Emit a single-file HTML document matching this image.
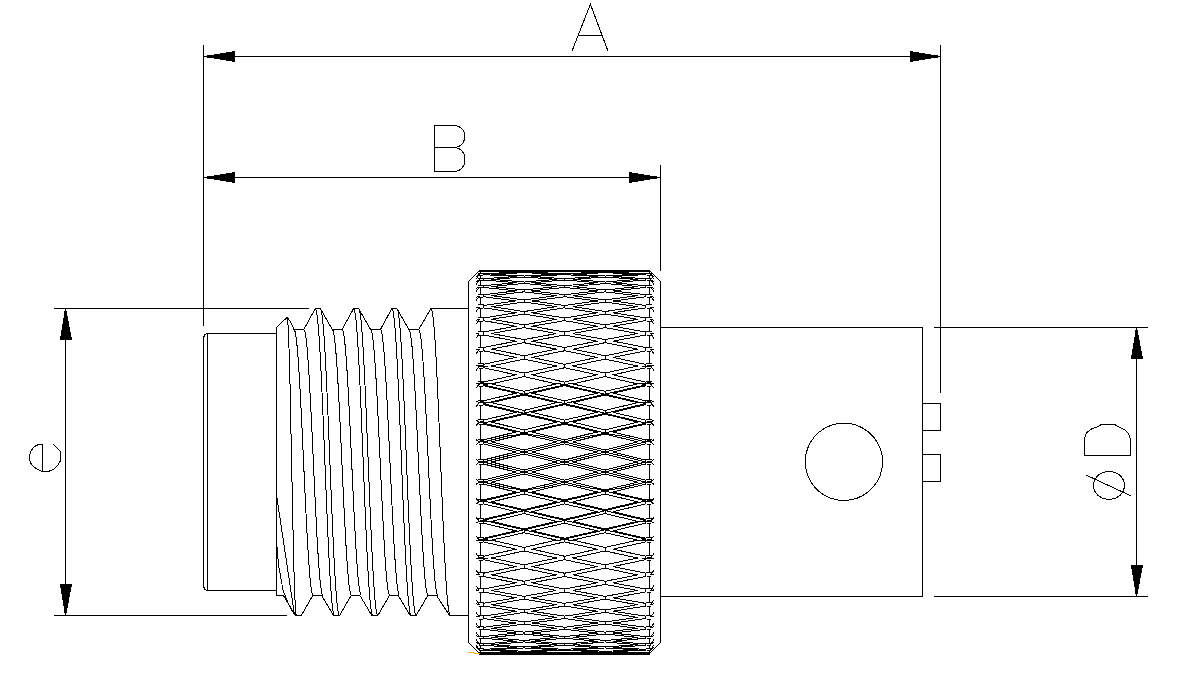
<!DOCTYPE html>
<html><head><meta charset="utf-8"><title>Connector drawing</title>
<style>
html,body{margin:0;padding:0;background:#fff;font-family:"Liberation Sans",sans-serif}
svg{display:block}
</style></head><body>
<svg width="1197" height="681" viewBox="0 0 1197 681" shape-rendering="crispEdges" fill="none" stroke="#000" stroke-width="1" stroke-linejoin="miter">
<rect x="0" y="0" width="1197" height="681" fill="#fff" stroke="none"/>
<path d="M203.5 56.5L940.5 56.5"/>
<path d="M203.5 45L203.5 326"/>
<path d="M940.5 45L940.5 393"/>
<path d="M203.5 177.5L660.5 177.5"/>
<path d="M660.5 165L660.5 271"/>
<path d="M205 55.9L205 57.1L235 62L235 51Z" fill="#000" stroke="none"/>
<path d="M940 55.9L940 57.1L910 62L910 51Z" fill="#000" stroke="none"/>
<path d="M205 176.9L205 178.1L235 183L235 172Z" fill="#000" stroke="none"/>
<path d="M659 176.9L659 178.1L629 183L629 172Z" fill="#000" stroke="none"/>
<path d="M54 308.5L309 308.5"/>
<path d="M54 615.5L287 615.5"/>
<path d="M65.5 308L65.5 616"/>
<path d="M64.9 309L66.1 309L72.1 340L59.9 340Z" fill="#000" stroke="none"/>
<path d="M64.9 615L66.1 615L72.1 584L59.9 584Z" fill="#000" stroke="none"/>
<path d="M934 327.5L1148 327.5"/>
<path d="M934 596.5L1148 596.5"/>
<path d="M1136.5 327L1136.5 597"/>
<path d="M1135.9 328L1137.1 328L1143.1 359L1130.9 359Z" fill="#000" stroke="none"/>
<path d="M1135.9 596L1137.1 596L1143.1 565L1130.9 565Z" fill="#000" stroke="none"/>
<path d="M572.2 50.6L590.4 4.2L607.8 50.6"/>
<path d="M578.2 35.5L601.8 35.5"/>
<path d="M454.5 125.5L434.5 125.5L434.5 171.5L454.5 171.5"/>
<path d="M434.5 147.5L454.5 147.5"/>
<path d="M454.5 125.5L456.8 125.8L459.0 126.6L460.9 127.9L462.6 129.6L463.8 131.7L464.5 134.1L464.8 136.5L464.5 138.9L463.8 141.3L462.6 143.4L460.9 145.1L459.0 146.4L456.8 147.2L454.5 147.5"/>
<path d="M454.5 147.5L456.8 147.8L459.1 148.7L461.0 150.1L462.7 152.0L464.0 154.3L464.7 156.8L465.0 159.5L464.7 162.2L464.0 164.7L462.7 167.0L461.0 168.9L459.1 170.3L456.8 171.2L454.5 171.5"/>
<path d="M42.5 471.3L42.5 444.5L38.5 444.5L34.5 446.5L31.2 450.5L29.5 455.0L29.5 460.2L31.5 464.5L35.1 467.8L38.7 470.0L42.2 471.3L48.5 471.3L52.0 470.2L54.6 468.4L57.8 465.0L60.3 461.0L60.6 455.5L60.4 451.6L53.2 444.4"/>
<path d="M1084.5 439.3L1084.5 455.5L1130.5 455.5L1130.5 439.3L1128.6 433.8L1124.8 429.7L1119.4 427.2L1114.6 424.5L1101.4 424.5L1096.8 427.2L1092.2 428.4L1087.2 432.2L1085.5 435.1L1084.5 439.3"/>
<path d="M1124.7 485.4L1123.5 490.8L1120.1 495.4L1115.0 498.5L1109.0 499.6L1103.0 498.5L1097.9 495.4L1094.5 490.8L1093.3 485.4L1094.5 480.0L1097.9 475.4L1103.0 472.3L1109.0 471.2L1115.0 472.3L1120.1 475.4L1123.5 480.0L1124.7 485.4Z"/>
<path d="M1086.2 475.1L1130.8 495.8"/>
<path d="M660.5 327.5L922.5 327.5L922.5 596.5L660.5 596.5"/>
<path d="M882.6 461.8L882.0 468.5L880.3 475.0L877.4 481.2L873.5 486.7L868.8 491.4L863.2 495.3L857.1 498.2L850.6 499.9L843.9 500.5L837.2 499.9L830.7 498.2L824.5 495.3L819.0 491.4L814.3 486.7L810.4 481.2L807.5 475.0L805.8 468.5L805.2 461.8L805.8 455.1L807.5 448.6L810.4 442.4L814.3 436.9L819.0 432.2L824.5 428.3L830.7 425.4L837.2 423.7L843.9 423.1L850.6 423.7L857.1 425.4L863.2 428.3L868.8 432.2L873.5 436.9L877.4 442.5L880.3 448.6L882.0 455.1L882.6 461.8Z"/>
<path d="M922.5 403.5L940.5 403.5L940.5 430.5L922.5 430.5"/>
<path d="M922.5 454.5L940.5 454.5L940.5 481.5L922.5 481.5"/>
<path d="M276.5 333.5L207.5 333.5L205.0 334.5L203.5 337.5L203.5 586.5L205.0 589.5L207.5 590.5L276.5 590.5"/>
<path d="M207.5 333.5L207.5 590.5"/>
<path d="M276.5 327L276.5 595.5"/>
<path d="M276.5 327.5L287.1 317.3"/>
<path d="M287.1 317.3L289.5 320.5L291.8 324.5L294.0 329.5L294.0 329.5L303.8 329.5L315.3 308.5L320.3 308.5L332.3 329.5L342.1 329.5L353.6 308.5L358.6 308.5L370.6 329.5L380.4 329.5L391.9 308.5L396.9 308.5L408.9 329.5L418.7 329.5L431.0 308.5L468.5 308.5"/>
<path d="M276.5 595.5L283.4 595.5L295.3 615.5L301.3 615.5L312.8 595.5L321.6 595.5L333.6 615.5L339.6 615.5L351.1 595.5L359.9 595.5L371.9 615.5L377.9 615.5L389.4 595.5L398.2 595.5L410.2 615.5L416.2 615.5L427.7 595.5L436.5 595.5L449.6 615.5L468.5 615.5"/>
<path d="M294.0 329.5L294.8 330.6L295.6 334.0L296.4 339.6L297.2 347.3L298.0 357.0L298.8 368.5L299.6 381.5L300.4 396.0L301.2 411.6L302.0 428.1L302.8 445.1L303.6 462.5L304.4 479.9L305.2 496.9L306.0 513.4L306.8 529.0L307.6 543.5L308.4 556.5L309.2 568.0L310.0 577.7L310.8 585.4L311.6 591.0L312.4 594.4L313.1 595.5"/>
<path d="M303.8 329.5L304.6 330.6L305.4 334.0L306.2 339.6L307.0 347.3L307.8 357.0L308.6 368.5L309.4 381.5L310.2 396.0L311.0 411.6L311.8 428.1L312.6 445.1L313.4 462.5L314.2 479.9L315.0 496.9L315.8 513.4L316.6 529.0L317.4 543.5L318.2 556.5L319.0 568.0L319.8 577.7L320.6 585.4L321.4 591.0L322.2 594.4L322.9 595.5"/>
<path d="M315.3 308.5L316.1 309.8L316.9 313.7L317.7 320.2L318.5 329.1L319.3 340.2L320.1 353.5L320.9 368.6L321.7 385.2L322.5 403.3L323.3 422.3L324.1 442.0L324.9 462.0L325.7 482.0L326.5 501.7L327.3 520.7L328.1 538.8L328.9 555.4L329.7 570.5L330.5 583.8L331.3 594.9L332.1 603.8L332.9 610.3L333.7 614.2L334.4 615.5"/>
<path d="M320.3 308.5L321.1 309.8L321.9 313.7L322.7 320.2L323.5 329.1L324.3 340.2L325.1 353.5L325.9 368.6L326.7 385.2L327.5 403.3L328.3 422.3L329.1 442.0L329.9 462.0L330.7 482.0L331.5 501.7L332.3 520.7L333.1 538.8L333.9 555.4L334.7 570.5L335.5 583.8L336.3 594.9L337.1 603.8L337.9 610.3L338.7 614.2L339.4 615.5"/>
<path d="M332.3 329.5L333.1 330.6L333.9 334.0L334.7 339.6L335.5 347.3L336.3 357.0L337.1 368.5L337.9 381.5L338.7 396.0L339.5 411.6L340.3 428.1L341.1 445.1L341.9 462.5L342.7 479.9L343.5 496.9L344.3 513.4L345.1 529.0L345.9 543.5L346.7 556.5L347.5 568.0L348.3 577.7L349.1 585.4L349.9 591.0L350.7 594.4L351.4 595.5"/>
<path d="M342.1 329.5L342.9 330.6L343.7 334.0L344.5 339.6L345.3 347.3L346.1 357.0L346.9 368.5L347.7 381.5L348.5 396.0L349.3 411.6L350.1 428.1L350.9 445.1L351.7 462.5L352.5 479.9L353.3 496.9L354.1 513.4L354.9 529.0L355.7 543.5L356.5 556.5L357.3 568.0L358.1 577.7L358.9 585.4L359.7 591.0L360.5 594.4L361.2 595.5"/>
<path d="M353.6 308.5L354.4 309.8L355.2 313.7L356.0 320.2L356.8 329.1L357.6 340.2L358.4 353.5L359.2 368.6L360.0 385.2L360.8 403.3L361.6 422.3L362.4 442.0L363.2 462.0L364.0 482.0L364.8 501.7L365.6 520.7L366.4 538.8L367.2 555.4L368.0 570.5L368.8 583.8L369.6 594.9L370.4 603.8L371.2 610.3L372.0 614.2L372.8 615.5"/>
<path d="M358.6 308.5L359.4 309.8L360.2 313.7L361.0 320.2L361.8 329.1L362.6 340.2L363.4 353.5L364.2 368.6L365.0 385.2L365.8 403.3L366.6 422.3L367.4 442.0L368.2 462.0L369.0 482.0L369.8 501.7L370.6 520.7L371.4 538.8L372.2 555.4L373.0 570.5L373.8 583.8L374.6 594.9L375.4 603.8L376.2 610.3L377.0 614.2L377.8 615.5"/>
<path d="M370.6 329.5L371.4 330.6L372.2 334.0L373.0 339.6L373.8 347.3L374.6 357.0L375.4 368.5L376.2 381.5L377.0 396.0L377.8 411.6L378.6 428.1L379.4 445.1L380.2 462.5L381.0 479.9L381.8 496.9L382.6 513.4L383.4 529.0L384.2 543.5L385.0 556.5L385.8 568.0L386.6 577.7L387.4 585.4L388.2 591.0L389.0 594.4L389.8 595.5"/>
<path d="M380.4 329.5L381.2 330.6L382.0 334.0L382.8 339.6L383.6 347.3L384.4 357.0L385.2 368.5L386.0 381.5L386.8 396.0L387.6 411.6L388.4 428.1L389.2 445.1L390.0 462.5L390.8 479.9L391.6 496.9L392.4 513.4L393.2 529.0L394.0 543.5L394.8 556.5L395.6 568.0L396.4 577.7L397.2 585.4L398.0 591.0L398.8 594.4L399.5 595.5"/>
<path d="M391.9 308.5L392.7 309.8L393.5 313.7L394.3 320.2L395.1 329.1L395.9 340.2L396.7 353.5L397.5 368.6L398.3 385.2L399.1 403.3L399.9 422.3L400.7 442.0L401.5 462.0L402.3 482.0L403.1 501.7L403.9 520.7L404.7 538.8L405.5 555.4L406.3 570.5L407.1 583.8L407.9 594.9L408.7 603.8L409.5 610.3L410.3 614.2L411.0 615.5"/>
<path d="M396.9 308.5L397.7 309.8L398.5 313.7L399.3 320.2L400.1 329.1L400.9 340.2L401.7 353.5L402.5 368.6L403.3 385.2L404.1 403.3L404.9 422.3L405.7 442.0L406.5 462.0L407.3 482.0L408.1 501.7L408.9 520.7L409.7 538.8L410.5 555.4L411.3 570.5L412.1 583.8L412.9 594.9L413.7 603.8L414.5 610.3L415.3 614.2L416.0 615.5"/>
<path d="M408.9 329.5L409.7 330.6L410.5 334.0L411.3 339.6L412.1 347.3L412.9 357.0L413.7 368.5L414.5 381.5L415.3 396.0L416.1 411.6L416.9 428.1L417.7 445.1L418.5 462.5L419.3 479.9L420.1 496.9L420.9 513.4L421.7 529.0L422.5 543.5L423.3 556.5L424.1 568.0L424.9 577.7L425.7 585.4L426.5 591.0L427.3 594.4L428.0 595.5"/>
<path d="M418.7 329.5L419.5 330.6L420.3 334.0L421.1 339.6L421.9 347.3L422.7 357.0L423.5 368.5L424.3 381.5L425.1 396.0L425.9 411.6L426.7 428.1L427.5 445.1L428.3 462.5L429.1 479.9L429.9 496.9L430.7 513.4L431.5 529.0L432.3 543.5L433.1 556.5L433.9 568.0L434.7 577.7L435.5 585.4L436.3 591.0L437.1 594.4L437.8 595.5"/>
<path d="M431.0 308.5L431.8 309.8L432.6 313.7L433.4 320.2L434.2 329.1L435.0 340.2L435.8 353.5L436.6 368.6L437.4 385.2L438.2 403.3L439.0 422.3L439.8 442.0L440.6 462.0L441.4 482.0L442.2 501.7L443.0 520.7L443.8 538.8L444.6 555.4L445.4 570.5L446.2 583.8L447.0 594.9L447.8 603.8L448.6 610.3L449.4 614.2L450.1 615.5"/>
<path d="M287.1 317.3L287.5 318.6L287.9 322.4L288.2 328.6L288.6 337.3L289.0 348.1L289.4 361.0L289.8 375.6L290.2 391.9L290.6 409.3L290.9 427.8L291.3 446.9L291.7 466.4L292.1 485.9L292.5 505.0L292.9 523.5L293.2 540.9L293.6 557.2L294.0 571.8L294.4 584.7L294.8 595.5L295.2 604.2L295.5 610.4L295.9 614.2L296.3 615.5"/>
<path d="M276.5 495.0L294.5 615.0"/>
<path d="M276.5 540.0L278.5 565.0L283.0 590.0L288.0 603.0L294.5 615.0"/>
<path d="M479.5 270.5L468.5 281.5L468.5 642.5L479.5 653.5"/>
<path d="M649.5 270.5L660.5 281.5L660.5 642.5L649.5 653.5"/>
<rect x="479" y="270" width="171" height="2" fill="#000" stroke="none"/>
<rect x="479" y="652" width="171" height="3" fill="#000" stroke="none"/>
<path d="M573.6 270.0L581.6 270.0L589.6 270.0L597.6 270.1L605.6 270.2"/>
<path d="M612.6 270.3L620.6 270.4L628.6 270.5L636.6 270.7L644.6 270.8L645.6 270.9"/>
<path d="M564.5 270.0L572.6 270.0L580.6 270.1L588.6 270.2L596.6 270.3L597.6 270.3"/>
<path d="M604.6 270.4L612.6 270.5L620.6 270.7L628.6 270.8L636.6 271.0L637.6 271.1"/>
<path d="M492.5 270.0L500.5 270.0L508.5 270.0L516.5 270.1L524.5 270.2"/>
<path d="M531.5 270.3L539.5 270.4L547.5 270.5L555.5 270.7L563.5 270.8L564.5 270.9"/>
<path d="M572.6 271.1L580.6 271.3L588.6 271.5L596.6 271.8L604.6 272.0L605.6 272.1"/>
<path d="M612.6 272.3L620.6 272.7L628.6 273.0L636.6 273.4L644.6 273.7L645.6 273.8"/>
<path d="M483.5 270.0L491.5 270.0L499.5 270.1L507.5 270.2L515.5 270.3L516.5 270.3"/>
<path d="M523.5 270.4L531.5 270.5L539.5 270.7L547.5 270.8L555.5 271.0L556.5 271.1"/>
<path d="M564.5 271.3L572.6 271.5L580.6 271.8L588.6 272.0L596.6 272.3L597.6 272.4"/>
<path d="M604.6 272.7L612.6 273.0L620.6 273.4L628.6 273.7L636.6 274.1L637.6 274.2"/>
<path d="M491.5 271.1L499.5 271.3L507.5 271.5L515.5 271.8L523.5 272.0L524.5 272.1"/>
<path d="M531.5 272.3L539.5 272.7L547.5 273.0L555.5 273.4L563.5 273.7L564.5 273.8"/>
<path d="M572.6 274.2L580.6 274.6L588.6 275.1L596.6 275.5L604.6 276.0L605.6 276.1"/>
<path d="M612.6 276.5L620.6 277.0L628.6 277.6L636.6 278.1L644.6 278.7L645.6 278.8"/>
<path d="M483.5 271.3L491.5 271.5L499.5 271.8L507.5 272.0L515.5 272.3L516.5 272.4"/>
<path d="M523.5 272.7L531.5 273.0L539.5 273.4L547.5 273.7L555.5 274.1L556.5 274.2"/>
<path d="M564.5 274.6L572.6 275.1L580.6 275.5L588.6 276.0L596.6 276.5L597.6 276.6"/>
<path d="M604.6 277.0L612.6 277.6L620.6 278.1L628.6 278.7L636.6 279.3L637.6 279.4"/>
<path d="M491.5 274.2L499.5 274.6L507.5 275.1L515.5 275.5L523.5 276.0L524.5 276.1"/>
<path d="M531.5 276.5L539.5 277.0L547.5 277.6L555.5 278.1L563.5 278.7L564.5 278.8"/>
<path d="M572.6 279.4L580.6 280.0L588.6 280.7L596.6 281.3L604.6 282.0L605.6 282.1"/>
<path d="M612.6 282.7L620.6 283.4L628.6 284.2L636.6 284.9L644.6 285.7L645.6 285.8"/>
<path d="M483.5 274.6L491.5 275.1L499.5 275.5L507.5 276.0L515.5 276.5L516.5 276.6"/>
<path d="M523.5 277.0L531.5 277.6L539.5 278.1L547.5 278.7L555.5 279.3L556.5 279.4"/>
<path d="M564.5 280.0L572.6 280.7L580.6 281.3L588.6 282.0L596.6 282.7L597.6 282.8"/>
<path d="M604.6 283.4L612.6 284.2L620.6 284.9L628.6 285.7L636.6 286.5L637.6 286.6"/>
<path d="M491.5 279.4L499.5 280.0L507.5 280.7L515.5 281.3L523.5 282.0L524.5 282.1"/>
<path d="M531.5 282.7L539.5 283.4L547.5 284.2L555.5 284.9L563.5 285.7L564.5 285.8"/>
<path d="M572.6 286.6L580.6 287.4L588.6 288.2L596.6 289.1L604.6 290.0L605.6 290.1"/>
<path d="M612.6 290.9L620.6 291.8L628.6 292.7L636.6 293.6L644.6 294.6L645.6 294.7"/>
<path d="M483.5 280.0L491.5 280.7L499.5 281.3L507.5 282.0L515.5 282.7L516.5 282.8"/>
<path d="M523.5 283.4L531.5 284.2L539.5 284.9L547.5 285.7L555.5 286.5L556.5 286.6"/>
<path d="M564.5 287.4L572.6 288.3L580.6 289.1L588.6 290.0L596.6 290.9L597.6 291.0"/>
<path d="M604.6 291.8L612.6 292.7L620.6 293.7L628.6 294.6L636.6 295.6L637.6 295.7"/>
<path d="M491.5 286.6L499.5 287.4L507.5 288.2L515.5 289.1L523.5 290.0L524.5 290.1"/>
<path d="M531.5 290.9L539.5 291.8L547.5 292.7L555.5 293.6L563.5 294.6L564.5 294.7"/>
<path d="M572.6 295.7L580.6 296.7L588.6 297.7L596.6 298.8L604.6 299.8L605.6 300.0"/>
<path d="M612.6 300.9L620.6 302.0L628.6 303.1L636.6 304.2L644.6 305.4L645.6 305.5"/>
<path d="M483.5 287.4L491.5 288.3L499.5 289.1L507.5 290.0L515.5 290.9L516.5 291.0"/>
<path d="M523.5 291.8L531.5 292.7L539.5 293.7L547.5 294.6L555.5 295.6L556.5 295.7"/>
<path d="M564.5 296.7L572.6 297.8L580.6 298.8L588.6 299.8L596.6 300.9L597.6 301.1"/>
<path d="M604.6 302.0L612.6 303.1L620.6 304.2L628.6 305.4L636.6 306.5L637.6 306.7"/>
<path d="M491.5 295.7L499.5 296.7L507.5 297.7L515.5 298.8L523.5 299.8L524.5 300.0"/>
<path d="M531.5 300.9L539.5 302.0L547.5 303.1L555.5 304.2L563.5 305.4L564.5 305.5"/>
<path d="M572.6 306.7L580.6 307.8L588.6 309.0L596.6 310.2L604.6 311.5L605.6 311.6"/>
<path d="M612.6 312.7L620.6 314.0L628.6 315.2L636.6 316.5L644.6 317.8L645.6 318.0"/>
<path d="M483.5 296.7L491.5 297.8L499.5 298.8L507.5 299.8L515.5 300.9L516.5 301.1"/>
<path d="M523.5 302.0L531.5 303.1L539.5 304.2L547.5 305.4L555.5 306.5L556.5 306.7"/>
<path d="M564.5 307.9L572.6 309.0L580.6 310.3L588.6 311.5L596.6 312.7L597.6 312.9"/>
<path d="M604.6 314.0L612.6 315.2L620.6 316.5L628.6 317.8L636.6 319.2L637.6 319.3"/>
<path d="M491.5 306.7L499.5 307.8L507.5 309.0L515.5 310.2L523.5 311.5L524.5 311.6"/>
<path d="M531.5 312.7L539.5 314.0L547.5 315.2L555.5 316.5L563.5 317.8L564.5 318.0"/>
<path d="M572.6 319.3L580.6 320.6L588.6 322.0L596.6 323.4L604.6 324.7L605.6 324.9"/>
<path d="M612.6 326.1L620.6 327.5L628.6 329.0L636.6 330.4L644.6 331.9L645.6 332.0"/>
<path d="M483.5 307.9L491.5 309.0L499.5 310.3L507.5 311.5L515.5 312.7L516.5 312.9"/>
<path d="M523.5 314.0L531.5 315.2L539.5 316.5L547.5 317.8L555.5 319.2L556.5 319.3"/>
<path d="M564.5 320.7L572.6 322.0L580.6 323.4L588.6 324.8L596.6 326.2L597.6 326.3"/>
<path d="M604.6 327.6L612.6 329.0L620.6 330.4L628.6 331.9L636.6 333.4L637.6 333.5"/>
<path d="M491.5 319.3L499.5 320.6L507.5 322.0L515.5 323.4L523.5 324.7L524.5 324.9"/>
<path d="M531.5 326.1L539.5 327.5L547.5 329.0L555.5 330.4L563.5 331.9L564.5 332.0"/>
<path d="M572.6 333.5L580.6 335.0L588.6 336.5L596.6 338.0L604.6 339.5L605.6 339.7"/>
<path d="M612.6 341.1L620.6 342.6L628.6 344.2L636.6 345.7L644.6 347.3L645.6 347.5"/>
<path d="M483.5 320.7L491.5 322.0L499.5 323.4L507.5 324.8L515.5 326.2L516.5 326.3"/>
<path d="M523.5 327.6L531.5 329.0L539.5 330.4L547.5 331.9L555.5 333.4L556.5 333.5"/>
<path d="M564.5 335.0L572.6 336.5L580.6 338.0L588.6 339.5L596.6 341.1L597.6 341.3"/>
<path d="M604.6 342.6L612.6 344.2L620.6 345.8L628.6 347.4L636.6 349.0L637.6 349.2"/>
<path d="M491.5 333.5L499.5 335.0L507.5 336.5L515.5 338.0L523.5 339.5L524.5 339.7"/>
<path d="M531.5 341.1L539.5 342.6L547.5 344.2L555.5 345.7L563.5 347.3L564.5 347.5"/>
<path d="M572.6 349.1L580.6 350.7L588.6 352.4L596.6 354.0L604.6 355.7L605.6 355.9"/>
<path d="M612.6 357.3L620.6 359.0L628.6 360.7L636.6 362.4L644.6 364.1L645.6 364.3"/>
<path d="M483.5 335.0L491.5 336.5L499.5 338.0L507.5 339.5L515.5 341.1L516.5 341.3"/>
<path d="M523.5 342.6L531.5 344.2L539.5 345.8L547.5 347.4L555.5 349.0L556.5 349.2"/>
<path d="M564.5 350.8L572.6 352.4L580.6 354.0L588.6 355.7L596.6 357.3L597.6 357.5"/>
<path d="M604.6 359.0L612.6 360.7L620.6 362.4L628.6 364.1L636.6 365.8L637.6 366.0"/>
<path d="M491.5 349.1L499.5 350.7L507.5 352.4L515.5 354.0L523.5 355.7L524.5 355.9"/>
<path d="M531.5 357.3L539.5 359.0L547.5 360.7L555.5 362.4L563.5 364.1L564.5 364.3"/>
<path d="M572.6 366.0L580.6 367.7L588.6 369.4L596.6 371.2L604.6 372.9L605.6 373.2"/>
<path d="M612.6 374.7L620.6 376.5L628.6 378.3L636.6 380.1L644.6 381.9L645.6 382.1"/>
<path d="M637.6 383.1L645.6 384.9"/>
<path d="M483.5 350.8L491.5 352.4L499.5 354.0L507.5 355.7L515.5 357.3L516.5 357.5"/>
<path d="M523.5 359.0L531.5 360.7L539.5 362.4L547.5 364.1L555.5 365.8L556.5 366.0"/>
<path d="M564.5 367.7L572.6 369.5L580.6 371.2L588.6 373.0L596.6 374.7L597.6 375.0"/>
<path d="M604.6 376.5L612.6 378.3L620.6 380.1L628.6 381.9L636.6 383.7L637.6 383.9"/>
<path d="M491.5 366.0L499.5 367.7L507.5 369.4L515.5 371.2L523.5 372.9L524.5 373.2"/>
<path d="M531.5 374.7L539.5 376.5L547.5 378.3L555.5 380.1L563.5 381.9L564.5 382.1"/>
<path d="M572.6 383.9L580.6 385.7L588.6 387.5L596.6 389.4L604.6 391.2L605.6 391.4"/>
<path d="M612.6 393.1L620.6 394.9L628.6 396.8L636.6 398.7L644.6 400.5L645.6 400.8"/>
<path d="M556.5 383.1L564.5 384.9L572.6 386.7L580.6 388.6L588.6 390.4L596.6 392.2L604.6 394.1L612.6 395.9L620.6 397.8L628.6 399.7L636.6 401.6L644.6 403.4L645.6 403.7"/>
<path d="M483.5 367.7L491.5 369.5L499.5 371.2L507.5 373.0L515.5 374.7L516.5 375.0"/>
<path d="M523.5 376.5L531.5 378.3L539.5 380.1L547.5 381.9L555.5 383.7L556.5 383.9"/>
<path d="M564.5 385.7L572.6 387.6L580.6 389.4L588.6 391.2L596.6 393.1L597.6 393.3"/>
<path d="M604.6 394.9L612.6 396.8L620.6 398.7L628.6 400.6L636.6 402.4L637.6 402.7"/>
<path d="M491.5 383.9L499.5 385.7L507.5 387.5L515.5 389.4L523.5 391.2L524.5 391.4"/>
<path d="M531.5 393.1L539.5 394.9L547.5 396.8L555.5 398.7L563.5 400.5L564.5 400.8"/>
<path d="M572.6 402.7L580.6 404.5L588.6 406.4L596.6 408.3L604.6 410.3L605.6 410.5"/>
<path d="M612.6 412.2L620.6 414.1L628.6 416.0L636.6 417.9L644.6 419.9L645.6 420.1"/>
<path d="M483.5 384.9L491.5 386.7L499.5 388.6L507.5 390.4L515.5 392.2L523.5 394.1L531.5 395.9L539.5 397.8L547.5 399.7L555.5 401.6L563.5 403.4L571.6 405.3L579.6 407.2L587.6 409.1L595.6 411.0L603.6 412.9L611.6 414.9L619.6 416.8L627.6 418.7L635.6 420.7L643.6 422.6L645.6 423.1"/>
<path d="M483.5 385.7L491.5 387.6L499.5 389.4L507.5 391.2L515.5 393.1L516.5 393.3"/>
<path d="M523.5 394.9L531.5 396.8L539.5 398.7L547.5 400.6L555.5 402.4L556.5 402.7"/>
<path d="M564.5 404.6L572.6 406.5L580.6 408.4L588.6 410.3L596.6 412.2L597.6 412.4"/>
<path d="M604.6 414.1L612.6 416.0L620.6 418.0L628.6 419.9L636.6 421.9L637.6 422.1"/>
<path d="M491.5 402.7L499.5 404.5L507.5 406.4L515.5 408.3L523.5 410.3L524.5 410.5"/>
<path d="M531.5 412.2L539.5 414.1L547.5 416.0L555.5 417.9L563.5 419.9L564.5 420.1"/>
<path d="M572.6 422.1L580.6 424.0L588.6 426.0L596.6 427.9L604.6 429.9L605.6 430.1"/>
<path d="M612.6 431.8L620.6 433.8L628.6 435.8L636.6 437.7L644.6 439.7L645.6 439.9"/>
<path d="M483.5 403.7L491.5 405.6L499.5 407.5L507.5 409.4L515.5 411.3L523.5 413.2L531.5 415.1L539.5 417.0L547.5 419.0L555.5 420.9L563.5 422.8L571.6 424.8L579.6 426.7L587.6 428.7L595.6 430.6L603.6 432.6L611.6 434.6L619.6 435.5L627.6 437.5L635.6 439.5L643.6 441.4L645.6 441.9"/>
<path d="M483.5 404.6L491.5 406.5L499.5 408.4L507.5 410.3L515.5 412.2L516.5 412.4"/>
<path d="M523.5 414.1L531.5 416.0L539.5 418.0L547.5 419.9L555.5 421.9L556.5 422.1"/>
<path d="M564.5 424.0L572.6 426.0L580.6 427.9L588.6 429.9L596.6 431.9L597.6 432.1"/>
<path d="M604.6 433.8L612.6 435.8L620.6 437.8L628.6 439.7L636.6 441.7L637.6 441.9"/>
<path d="M491.5 422.1L499.5 424.0L507.5 426.0L515.5 427.9L523.5 429.9L524.5 430.1"/>
<path d="M531.5 431.8L539.5 433.8L547.5 435.8L555.5 437.7L563.5 439.7L564.5 439.9"/>
<path d="M572.6 441.9L580.6 443.9L588.6 445.9L596.6 447.8L604.6 449.8L605.6 450.1"/>
<path d="M612.6 451.8L620.6 453.8L628.6 455.8L636.6 457.8L644.6 459.8L645.6 460.0"/>
<path d="M483.5 423.1L491.5 425.0L499.5 427.0L507.5 428.9L515.5 430.9L523.5 432.8L531.5 434.8L539.5 435.8L547.5 437.7L555.5 439.7L563.5 441.7L571.6 443.7L579.6 445.6L587.6 447.6L595.6 449.6L603.6 451.6L611.6 453.6L619.6 455.5L627.6 457.5L635.6 459.5L643.6 461.5L645.6 462.0"/>
<path d="M483.5 424.0L491.5 426.0L499.5 427.9L507.5 429.9L515.5 431.9L516.5 432.1"/>
<path d="M523.5 433.8L531.5 435.8L539.5 437.8L547.5 439.7L555.5 441.7L556.5 441.9"/>
<path d="M564.5 443.9L572.6 445.9L580.6 447.9L588.6 449.9L596.6 451.8L597.6 452.1"/>
<path d="M604.6 453.8L612.6 455.8L620.6 457.8L628.6 459.8L636.6 461.8L637.6 462.0"/>
<path d="M491.5 441.9L499.5 443.9L507.5 445.9L515.5 447.8L523.5 449.8L524.5 450.1"/>
<path d="M531.5 451.8L539.5 453.8L547.5 455.8L555.5 457.8L563.5 459.8L564.5 460.0"/>
<path d="M572.6 462.0L580.6 464.0L588.6 466.0L596.6 467.9L604.6 469.9L605.6 470.2"/>
<path d="M612.6 471.9L620.6 473.9L628.6 475.9L636.6 477.9L644.6 479.8L645.6 480.1"/>
<path d="M483.5 441.9L491.5 443.9L499.5 445.9L507.5 447.9L515.5 449.8L523.5 451.8L531.5 453.8L539.5 455.8L547.5 457.8L555.5 459.8L563.5 461.8L571.6 463.7L579.6 465.7L587.6 467.7L595.6 469.7L603.6 471.7L611.6 473.7L619.6 475.6L627.6 477.6L635.6 479.6L643.6 481.6L645.6 482.1"/>
<path d="M483.5 443.9L491.5 445.9L499.5 447.9L507.5 449.9L515.5 451.8L516.5 452.1"/>
<path d="M523.5 453.8L531.5 455.8L539.5 457.8L547.5 459.8L555.5 461.8L556.5 462.0"/>
<path d="M564.5 464.0L572.6 466.0L580.6 468.0L588.6 470.0L596.6 471.9L597.6 472.2"/>
<path d="M604.6 473.9L612.6 475.9L620.6 477.9L628.6 479.9L636.6 481.8L637.6 482.1"/>
<path d="M491.5 462.0L499.5 464.0L507.5 466.0L515.5 467.9L523.5 469.9L524.5 470.2"/>
<path d="M531.5 471.9L539.5 473.9L547.5 475.9L555.5 477.9L563.5 479.8L564.5 480.1"/>
<path d="M572.6 482.1L580.6 484.0L588.6 486.0L596.6 488.0L604.6 489.9L605.6 490.2"/>
<path d="M612.6 491.9L620.6 493.9L628.6 495.8L636.6 497.8L644.6 499.7L645.6 500.0"/>
<path d="M483.5 462.0L491.5 464.0L499.5 466.0L507.5 468.0L515.5 469.9L523.5 471.9L531.5 473.9L539.5 475.9L547.5 477.9L555.5 479.8L563.5 481.8L571.6 483.8L579.6 485.8L587.6 487.7L595.6 488.7L603.6 490.7L611.6 492.6L619.6 494.6L627.6 496.5L635.6 498.5L643.6 500.4L645.6 500.9"/>
<path d="M483.5 464.0L491.5 466.0L499.5 468.0L507.5 470.0L515.5 471.9L516.5 472.2"/>
<path d="M523.5 473.9L531.5 475.9L539.5 477.9L547.5 479.9L555.5 481.8L556.5 482.1"/>
<path d="M564.5 484.1L572.6 486.0L580.6 488.0L588.6 490.0L596.6 491.9L597.6 492.2"/>
<path d="M604.6 493.9L612.6 495.8L620.6 497.8L628.6 499.7L636.6 501.7L637.6 501.9"/>
<path d="M491.5 482.1L499.5 484.0L507.5 486.0L515.5 488.0L523.5 489.9L524.5 490.2"/>
<path d="M531.5 491.9L539.5 493.9L547.5 495.8L555.5 497.8L563.5 499.7L564.5 500.0"/>
<path d="M572.6 501.9L580.6 503.8L588.6 505.8L596.6 507.7L604.6 509.6L605.6 509.9"/>
<path d="M612.6 511.6L620.6 513.5L628.6 515.4L636.6 517.3L644.6 519.2L645.6 519.4"/>
<path d="M483.5 482.1L491.5 484.0L499.5 486.0L507.5 488.0L515.5 488.9L523.5 490.9L531.5 492.9L539.5 494.8L547.5 496.8L555.5 498.7L563.5 500.7L571.6 502.6L579.6 504.6L587.6 506.5L595.6 508.4L603.6 510.3L611.6 512.2L619.6 514.2L627.6 516.1L635.6 518.0L643.6 519.9L645.6 520.3"/>
<path d="M483.5 484.1L491.5 486.0L499.5 488.0L507.5 490.0L515.5 491.9L516.5 492.2"/>
<path d="M523.5 493.9L531.5 495.8L539.5 497.8L547.5 499.7L555.5 501.7L556.5 501.9"/>
<path d="M564.5 503.9L572.6 505.8L580.6 507.7L588.6 509.7L596.6 511.6L597.6 511.8"/>
<path d="M604.6 513.5L612.6 515.4L620.6 517.3L628.6 519.2L636.6 521.1L637.6 521.3"/>
<path d="M491.5 501.9L499.5 503.8L507.5 505.8L515.5 507.7L523.5 509.6L524.5 509.9"/>
<path d="M531.5 511.6L539.5 513.5L547.5 515.4L555.5 517.3L563.5 519.2L564.5 519.4"/>
<path d="M572.6 521.3L580.6 523.2L588.6 525.1L596.6 527.0L604.6 528.8L605.6 529.1"/>
<path d="M612.6 530.7L620.6 532.5L628.6 534.4L636.6 536.2L644.6 538.0L645.6 538.3"/>
<path d="M483.5 500.9L491.5 502.9L499.5 504.8L507.5 506.7L515.5 508.6L523.5 510.6L531.5 512.5L539.5 514.4L547.5 516.3L555.5 518.2L563.5 520.1L571.6 522.0L579.6 523.9L587.6 525.7L595.6 527.6L603.6 529.5L611.6 531.3L619.6 533.2L627.6 535.0L635.6 536.8L643.6 538.6L645.6 539.1"/>
<path d="M483.5 503.9L491.5 505.8L499.5 507.7L507.5 509.7L515.5 511.6L516.5 511.8"/>
<path d="M523.5 513.5L531.5 515.4L539.5 517.3L547.5 519.2L555.5 521.1L556.5 521.3"/>
<path d="M564.5 523.2L572.6 525.1L580.6 527.0L588.6 528.8L596.6 530.7L597.6 530.9"/>
<path d="M604.6 532.6L612.6 534.4L620.6 536.2L628.6 538.1L636.6 539.9L637.6 540.1"/>
<path d="M491.5 521.3L499.5 523.2L507.5 525.1L515.5 527.0L523.5 528.8L524.5 529.1"/>
<path d="M531.5 530.7L539.5 532.5L547.5 534.4L555.5 536.2L563.5 538.0L564.5 538.3"/>
<path d="M572.6 540.1L580.6 541.9L588.6 543.7L596.6 545.5L604.6 547.3L605.6 547.5"/>
<path d="M612.6 549.0L620.6 550.8L628.6 552.6L636.6 554.3L644.6 556.0L645.6 556.3"/>
<path d="M483.5 520.3L491.5 522.2L499.5 524.1L507.5 526.0L515.5 527.8L523.5 529.7L531.5 531.5L539.5 533.4L547.5 535.2L555.5 537.0L563.5 538.9L571.6 540.7L572.6 540.9"/>
<path d="M483.5 523.2L491.5 525.1L499.5 527.0L507.5 528.8L515.5 530.7L516.5 530.9"/>
<path d="M523.5 532.6L531.5 534.4L539.5 536.2L547.5 538.1L555.5 539.9L556.5 540.1"/>
<path d="M564.5 541.9L572.6 543.7L580.6 545.5L588.6 547.3L596.6 549.1L597.6 549.3"/>
<path d="M604.6 550.8L612.6 552.6L620.6 554.3L628.6 556.1L636.6 557.8L637.6 558.0"/>
<path d="M491.5 540.1L499.5 541.9L507.5 543.7L515.5 545.5L523.5 547.3L524.5 547.5"/>
<path d="M531.5 549.0L539.5 550.8L547.5 552.6L555.5 554.3L563.5 556.0L564.5 556.3"/>
<path d="M572.6 558.0L580.6 559.7L588.6 561.4L596.6 563.1L604.6 564.8L605.6 565.0"/>
<path d="M612.6 566.5L620.6 568.1L628.6 569.8L636.6 571.4L644.6 573.0L645.6 573.2"/>
<path d="M483.5 539.1L491.5 540.9"/>
<path d="M483.5 541.9L491.5 543.7L499.5 545.5L507.5 547.3L515.5 549.1L516.5 549.3"/>
<path d="M523.5 550.8L531.5 552.6L539.5 554.3L547.5 556.1L555.5 557.8L556.5 558.0"/>
<path d="M564.5 559.7L572.6 561.4L580.6 563.1L588.6 564.8L596.6 566.5L597.6 566.7"/>
<path d="M604.6 568.1L612.6 569.8L620.6 571.4L628.6 573.1L636.6 574.7L637.6 574.9"/>
<path d="M491.5 558.0L499.5 559.7L507.5 561.4L515.5 563.1L523.5 564.8L524.5 565.0"/>
<path d="M531.5 566.5L539.5 568.1L547.5 569.8L555.5 571.4L563.5 573.0L564.5 573.2"/>
<path d="M572.6 574.8L580.6 576.4L588.6 578.0L596.6 579.6L604.6 581.2L605.6 581.4"/>
<path d="M612.6 582.7L620.6 584.3L628.6 585.8L636.6 587.3L644.6 588.8L645.6 589.0"/>
<path d="M483.5 559.7L491.5 561.4L499.5 563.1L507.5 564.8L515.5 566.5L516.5 566.7"/>
<path d="M523.5 568.1L531.5 569.8L539.5 571.4L547.5 573.1L555.5 574.7L556.5 574.9"/>
<path d="M564.5 576.5L572.6 578.1L580.6 579.6L588.6 581.2L596.6 582.7L597.6 582.9"/>
<path d="M604.6 584.3L612.6 585.8L620.6 587.3L628.6 588.8L636.6 590.3L637.6 590.5"/>
<path d="M491.5 574.8L499.5 576.4L507.5 578.0L515.5 579.6L523.5 581.2L524.5 581.4"/>
<path d="M531.5 582.7L539.5 584.3L547.5 585.8L555.5 587.3L563.5 588.8L564.5 589.0"/>
<path d="M572.6 590.5L580.6 591.9L588.6 593.4L596.6 594.8L604.6 596.3L605.6 596.4"/>
<path d="M612.6 597.7L620.6 599.1L628.6 600.4L636.6 601.8L644.6 603.2L645.6 603.3"/>
<path d="M483.5 576.5L491.5 578.1L499.5 579.6L507.5 581.2L515.5 582.7L516.5 582.9"/>
<path d="M523.5 584.3L531.5 585.8L539.5 587.3L547.5 588.8L555.5 590.3L556.5 590.5"/>
<path d="M564.5 592.0L572.6 593.4L580.6 594.8L588.6 596.3L596.6 597.7L597.6 597.9"/>
<path d="M604.6 599.1L612.6 600.5L620.6 601.8L628.6 603.2L636.6 604.5L637.6 604.7"/>
<path d="M491.5 590.5L499.5 591.9L507.5 593.4L515.5 594.8L523.5 596.3L524.5 596.4"/>
<path d="M531.5 597.7L539.5 599.1L547.5 600.4L555.5 601.8L563.5 603.2L564.5 603.3"/>
<path d="M572.6 604.7L580.6 606.0L588.6 607.3L596.6 608.6L604.6 609.9L605.6 610.0"/>
<path d="M612.6 611.1L620.6 612.4L628.6 613.6L636.6 614.8L644.6 616.0L645.6 616.1"/>
<path d="M483.5 592.0L491.5 593.4L499.5 594.8L507.5 596.3L515.5 597.7L516.5 597.9"/>
<path d="M523.5 599.1L531.5 600.5L539.5 601.8L547.5 603.2L555.5 604.5L556.5 604.7"/>
<path d="M564.5 606.0L572.6 607.3L580.6 608.6L588.6 609.9L596.6 611.1L597.6 611.3"/>
<path d="M604.6 612.4L612.6 613.6L620.6 614.8L628.6 616.0L636.6 617.2L637.6 617.3"/>
<path d="M491.5 604.7L499.5 606.0L507.5 607.3L515.5 608.6L523.5 609.9L524.5 610.0"/>
<path d="M531.5 611.1L539.5 612.4L547.5 613.6L555.5 614.8L563.5 616.0L564.5 616.1"/>
<path d="M572.6 617.3L580.6 618.5L588.6 619.6L596.6 620.7L604.6 621.9L605.6 622.0"/>
<path d="M612.6 622.9L620.6 624.0L628.6 625.1L636.6 626.1L644.6 627.1L645.6 627.3"/>
<path d="M483.5 606.0L491.5 607.3L499.5 608.6L507.5 609.9L515.5 611.1L516.5 611.3"/>
<path d="M523.5 612.4L531.5 613.6L539.5 614.8L547.5 616.0L555.5 617.2L556.5 617.3"/>
<path d="M564.5 618.5L572.6 619.6L580.6 620.8L588.6 621.9L596.6 623.0L597.6 623.1"/>
<path d="M604.6 624.0L612.6 625.1L620.6 626.1L628.6 627.2L636.6 628.2L637.6 628.3"/>
<path d="M491.5 617.3L499.5 618.5L507.5 619.6L515.5 620.7L523.5 621.9L524.5 622.0"/>
<path d="M531.5 622.9L539.5 624.0L547.5 625.1L555.5 626.1L563.5 627.1L564.5 627.3"/>
<path d="M572.6 628.3L580.6 629.3L588.6 630.2L596.6 631.2L604.6 632.1L605.6 632.2"/>
<path d="M612.6 633.0L620.6 633.9L628.6 634.8L636.6 635.6L644.6 636.5L645.6 636.6"/>
<path d="M483.5 618.5L491.5 619.6L499.5 620.8L507.5 621.9L515.5 623.0L516.5 623.1"/>
<path d="M523.5 624.0L531.5 625.1L539.5 626.1L547.5 627.2L555.5 628.2L556.5 628.3"/>
<path d="M564.5 629.3L572.6 630.2L580.6 631.2L588.6 632.1L596.6 633.0L597.6 633.1"/>
<path d="M604.6 633.9L612.6 634.8L620.6 635.6L628.6 636.5L636.6 637.3L637.6 637.4"/>
<path d="M491.5 628.3L499.5 629.3L507.5 630.2L515.5 631.2L523.5 632.1L524.5 632.2"/>
<path d="M531.5 633.0L539.5 633.9L547.5 634.8L555.5 635.6L563.5 636.5L564.5 636.6"/>
<path d="M572.6 637.4L580.6 638.2L588.6 639.0L596.6 639.7L604.6 640.5L605.6 640.6"/>
<path d="M612.6 641.2L620.6 641.9L628.6 642.6L636.6 643.3L644.6 643.9L645.6 644.0"/>
<path d="M483.5 629.3L491.5 630.2L499.5 631.2L507.5 632.1L515.5 633.0L516.5 633.1"/>
<path d="M523.5 633.9L531.5 634.8L539.5 635.6L547.5 636.5L555.5 637.3L556.5 637.4"/>
<path d="M564.5 638.2L572.6 639.0L580.6 639.7L588.6 640.5L596.6 641.2L597.6 641.3"/>
<path d="M604.6 641.9L612.6 642.6L620.6 643.3L628.6 643.9L636.6 644.5L637.6 644.6"/>
<path d="M491.5 637.4L499.5 638.2L507.5 639.0L515.5 639.7L523.5 640.5L524.5 640.6"/>
<path d="M531.5 641.2L539.5 641.9L547.5 642.6L555.5 643.3L563.5 643.9L564.5 644.0"/>
<path d="M572.6 644.6L580.6 645.2L588.6 645.8L596.6 646.4L604.6 646.9L605.6 647.0"/>
<path d="M612.6 647.4L620.6 647.9L628.6 648.4L636.6 648.9L644.6 649.3L645.6 649.4"/>
<path d="M483.5 638.2L491.5 639.0L499.5 639.7L507.5 640.5L515.5 641.2L516.5 641.3"/>
<path d="M523.5 641.9L531.5 642.6L539.5 643.3L547.5 643.9L555.5 644.5L556.5 644.6"/>
<path d="M564.5 645.2L572.6 645.8L580.6 646.4L588.6 646.9L596.6 647.4L597.6 647.5"/>
<path d="M604.6 647.9L612.6 648.4L620.6 648.9L628.6 649.3L636.6 649.8L637.6 649.8"/>
<path d="M491.5 644.6L499.5 645.2L507.5 645.8L515.5 646.4L523.5 646.9L524.5 647.0"/>
<path d="M531.5 647.4L539.5 647.9L547.5 648.4L555.5 648.9L563.5 649.3L564.5 649.4"/>
<path d="M572.6 649.8L580.6 650.2L588.6 650.6L596.6 650.9L604.6 651.3L605.6 651.3"/>
<path d="M612.6 651.6L620.6 651.9L628.6 652.2L636.6 652.5L644.6 652.7L645.6 652.7"/>
<path d="M483.5 645.2L491.5 645.8L499.5 646.4L507.5 646.9L515.5 647.4L516.5 647.5"/>
<path d="M523.5 647.9L531.5 648.4L539.5 648.9L547.5 649.3L555.5 649.8L556.5 649.8"/>
<path d="M564.5 650.2L572.6 650.6L580.6 651.0L588.6 651.3L596.6 651.6L597.6 651.7"/>
<path d="M604.6 651.9L612.6 652.2L620.6 652.5L628.6 652.7L636.6 652.9L637.6 652.9"/>
<path d="M491.5 649.8L499.5 650.2L507.5 650.6L515.5 650.9L523.5 651.3L524.5 651.3"/>
<path d="M531.5 651.6L539.5 651.9L547.5 652.2L555.5 652.5L563.5 652.7L564.5 652.7"/>
<path d="M572.6 652.9L580.6 653.1L588.6 653.3L596.6 653.5L604.6 653.6L605.6 653.6"/>
<path d="M612.6 653.7L620.6 653.8L628.6 653.9L636.6 654.0L644.6 654.0L645.6 654.0"/>
<path d="M483.5 650.2L491.5 650.6L499.5 651.0L507.5 651.3L515.5 651.6L516.5 651.7"/>
<path d="M523.5 651.9L531.5 652.2L539.5 652.5L547.5 652.7L555.5 652.9L556.5 652.9"/>
<path d="M564.5 653.1L572.6 653.3L580.6 653.5L588.6 653.6L596.6 653.7L597.6 653.7"/>
<path d="M604.6 653.8L612.6 653.9L620.6 654.0L628.6 654.0L636.6 654.0"/>
<path d="M491.5 652.9L499.5 653.1L507.5 653.3L515.5 653.5L523.5 653.6L524.5 653.6"/>
<path d="M531.5 653.7L539.5 653.8L547.5 653.9L555.5 654.0L563.5 654.0L564.5 654.0"/>
<path d="M483.5 653.1L491.5 653.3L499.5 653.5L507.5 653.6L515.5 653.7L516.5 653.7"/>
<path d="M523.5 653.8L531.5 653.9L539.5 654.0L547.5 654.0L555.5 654.0"/>
<path d="M483.5 270.9L491.5 270.7L499.5 270.5L507.5 270.4L515.5 270.3L516.5 270.3"/>
<path d="M523.5 270.2L531.5 270.1L539.5 270.0L547.5 270.0L555.5 270.0"/>
<path d="M491.5 271.1L499.5 270.9L507.5 270.7L515.5 270.5L523.5 270.4L524.5 270.4"/>
<path d="M531.5 270.3L539.5 270.2L547.5 270.1L555.5 270.0L563.5 270.0L564.5 270.0"/>
<path d="M483.5 273.8L491.5 273.4L499.5 273.0L507.5 272.7L515.5 272.4L516.5 272.3"/>
<path d="M523.5 272.1L531.5 271.8L539.5 271.5L547.5 271.3L555.5 271.1L556.5 271.1"/>
<path d="M564.5 270.9L572.6 270.7L580.6 270.5L588.6 270.4L596.6 270.3L597.6 270.3"/>
<path d="M604.6 270.2L612.6 270.1L620.6 270.0L628.6 270.0L636.6 270.0"/>
<path d="M491.5 274.2L499.5 273.8L507.5 273.4L515.5 273.1L523.5 272.7L524.5 272.7"/>
<path d="M531.5 272.4L539.5 272.1L547.5 271.8L555.5 271.5L563.5 271.3L564.5 271.3"/>
<path d="M572.6 271.1L580.6 270.9L588.6 270.7L596.6 270.5L604.6 270.4L605.6 270.4"/>
<path d="M612.6 270.3L620.6 270.2L628.6 270.1L636.6 270.0L644.6 270.0L645.6 270.0"/>
<path d="M483.5 278.8L491.5 278.2L499.5 277.6L507.5 277.1L515.5 276.6L516.5 276.5"/>
<path d="M523.5 276.1L531.5 275.6L539.5 275.1L547.5 274.7L555.5 274.2L556.5 274.2"/>
<path d="M564.5 273.8L572.6 273.4L580.6 273.0L588.6 272.7L596.6 272.4L597.6 272.3"/>
<path d="M604.6 272.1L612.6 271.8L620.6 271.5L628.6 271.3L636.6 271.1L637.6 271.1"/>
<path d="M491.5 279.4L499.5 278.8L507.5 278.2L515.5 277.6L523.5 277.1L524.5 277.0"/>
<path d="M531.5 276.6L539.5 276.1L547.5 275.6L555.5 275.1L563.5 274.7L564.5 274.6"/>
<path d="M572.6 274.2L580.6 273.8L588.6 273.4L596.6 273.1L604.6 272.7L605.6 272.7"/>
<path d="M612.6 272.4L620.6 272.1L628.6 271.8L636.6 271.5L644.6 271.3L645.6 271.3"/>
<path d="M483.5 285.8L491.5 285.0L499.5 284.3L507.5 283.5L515.5 282.8L516.5 282.7"/>
<path d="M523.5 282.1L531.5 281.4L539.5 280.7L547.5 280.1L555.5 279.5L556.5 279.4"/>
<path d="M564.5 278.8L572.6 278.2L580.6 277.6L588.6 277.1L596.6 276.6L597.6 276.5"/>
<path d="M604.6 276.1L612.6 275.6L620.6 275.1L628.6 274.7L636.6 274.2L637.6 274.2"/>
<path d="M491.5 286.6L499.5 285.8L507.5 285.0L515.5 284.3L523.5 283.5L524.5 283.4"/>
<path d="M531.5 282.8L539.5 282.1L547.5 281.4L555.5 280.7L563.5 280.1L564.5 280.0"/>
<path d="M572.6 279.4L580.6 278.8L588.6 278.2L596.6 277.6L604.6 277.1L605.6 277.0"/>
<path d="M612.6 276.6L620.6 276.1L628.6 275.6L636.6 275.1L644.6 274.7L645.6 274.6"/>
<path d="M483.5 294.7L491.5 293.8L499.5 292.8L507.5 291.9L515.5 291.0L516.5 290.9"/>
<path d="M523.5 290.1L531.5 289.2L539.5 288.4L547.5 287.5L555.5 286.7L556.5 286.6"/>
<path d="M564.5 285.8L572.6 285.0L580.6 284.3L588.6 283.5L596.6 282.8L597.6 282.7"/>
<path d="M604.6 282.1L612.6 281.4L620.6 280.7L628.6 280.1L636.6 279.5L637.6 279.4"/>
<path d="M491.5 295.7L499.5 294.7L507.5 293.8L515.5 292.8L523.5 291.9L524.5 291.8"/>
<path d="M531.5 291.0L539.5 290.1L547.5 289.2L555.5 288.4L563.5 287.5L564.5 287.4"/>
<path d="M572.6 286.6L580.6 285.8L588.6 285.0L596.6 284.3L604.6 283.5L605.6 283.4"/>
<path d="M612.6 282.8L620.6 282.1L628.6 281.4L636.6 280.7L644.6 280.1L645.6 280.0"/>
<path d="M483.5 305.5L491.5 304.4L499.5 303.2L507.5 302.1L515.5 301.0L516.5 300.9"/>
<path d="M523.5 300.0L531.5 298.9L539.5 297.9L547.5 296.8L555.5 295.8L556.5 295.7"/>
<path d="M564.5 294.7L572.6 293.8L580.6 292.8L588.6 291.9L596.6 291.0L597.6 290.9"/>
<path d="M604.6 290.1L612.6 289.2L620.6 288.4L628.6 287.5L636.6 286.7L637.6 286.6"/>
<path d="M491.5 306.7L499.5 305.5L507.5 304.4L515.5 303.3L523.5 302.1L524.5 302.0"/>
<path d="M531.5 301.1L539.5 300.0L547.5 298.9L555.5 297.9L563.5 296.9L564.5 296.7"/>
<path d="M572.6 295.7L580.6 294.7L588.6 293.8L596.6 292.8L604.6 291.9L605.6 291.8"/>
<path d="M612.6 291.0L620.6 290.1L628.6 289.2L636.6 288.4L644.6 287.5L645.6 287.4"/>
<path d="M483.5 318.0L491.5 316.7L499.5 315.4L507.5 314.1L515.5 312.9L516.5 312.7"/>
<path d="M523.5 311.6L531.5 310.4L539.5 309.2L547.5 308.0L555.5 306.8L556.5 306.7"/>
<path d="M564.5 305.5L572.6 304.4L580.6 303.2L588.6 302.1L596.6 301.0L597.6 300.9"/>
<path d="M604.6 300.0L612.6 298.9L620.6 297.9L628.6 296.8L636.6 295.8L637.6 295.7"/>
<path d="M491.5 319.3L499.5 318.0L507.5 316.7L515.5 315.4L523.5 314.1L524.5 314.0"/>
<path d="M531.5 312.9L539.5 311.6L547.5 310.4L555.5 309.2L563.5 308.0L564.5 307.9"/>
<path d="M572.6 306.7L580.6 305.5L588.6 304.4L596.6 303.3L604.6 302.1L605.6 302.0"/>
<path d="M612.6 301.1L620.6 300.0L628.6 298.9L636.6 297.9L644.6 296.9L645.6 296.7"/>
<path d="M483.5 332.0L491.5 330.6L499.5 329.2L507.5 327.7L515.5 326.3L516.5 326.1"/>
<path d="M523.5 324.9L531.5 323.5L539.5 322.2L547.5 320.8L555.5 319.5L556.5 319.3"/>
<path d="M564.5 318.0L572.6 316.7L580.6 315.4L588.6 314.1L596.6 312.9L597.6 312.7"/>
<path d="M604.6 311.6L612.6 310.4L620.6 309.2L628.6 308.0L636.6 306.8L637.6 306.7"/>
<path d="M491.5 333.5L499.5 332.1L507.5 330.6L515.5 329.2L523.5 327.7L524.5 327.6"/>
<path d="M531.5 326.3L539.5 324.9L547.5 323.6L555.5 322.2L563.5 320.8L564.5 320.7"/>
<path d="M572.6 319.3L580.6 318.0L588.6 316.7L596.6 315.4L604.6 314.1L605.6 314.0"/>
<path d="M612.6 312.9L620.6 311.6L628.6 310.4L636.6 309.2L644.6 308.0L645.6 307.9"/>
<path d="M483.5 347.5L491.5 345.9L499.5 344.4L507.5 342.8L515.5 341.3L516.5 341.1"/>
<path d="M523.5 339.7L531.5 338.2L539.5 336.7L547.5 335.2L555.5 333.7L556.5 333.5"/>
<path d="M564.5 332.0L572.6 330.6L580.6 329.2L588.6 327.7L596.6 326.3L597.6 326.1"/>
<path d="M604.6 324.9L612.6 323.5L620.6 322.2L628.6 320.8L636.6 319.5L637.6 319.3"/>
<path d="M491.5 349.2L499.5 347.6L507.5 346.0L515.5 344.4L523.5 342.8L524.5 342.6"/>
<path d="M531.5 341.3L539.5 339.7L547.5 338.2L555.5 336.7L563.5 335.2L564.5 335.0"/>
<path d="M572.6 333.5L580.6 332.1L588.6 330.6L596.6 329.2L604.6 327.7L605.6 327.6"/>
<path d="M612.6 326.3L620.6 324.9L628.6 323.6L636.6 322.2L644.6 320.8L645.6 320.7"/>
<path d="M483.5 364.3L491.5 362.6L499.5 360.9L507.5 359.2L515.5 357.5L516.5 357.3"/>
<path d="M523.5 355.9L531.5 354.2L539.5 352.6L547.5 350.9L555.5 349.3L556.5 349.1"/>
<path d="M564.5 347.5L572.6 345.9L580.6 344.4L588.6 342.8L596.6 341.3L597.6 341.1"/>
<path d="M604.6 339.7L612.6 338.2L620.6 336.7L628.6 335.2L636.6 333.7L637.6 333.5"/>
<path d="M491.5 366.0L499.5 364.3L507.5 362.6L515.5 360.9L523.5 359.2L524.5 359.0"/>
<path d="M531.5 357.5L539.5 355.9L547.5 354.2L555.5 352.6L563.5 351.0L564.5 350.8"/>
<path d="M572.6 349.2L580.6 347.6L588.6 346.0L596.6 344.4L604.6 342.8L605.6 342.6"/>
<path d="M612.6 341.3L620.6 339.7L628.6 338.2L636.6 336.7L644.6 335.2L645.6 335.0"/>
<path d="M483.5 382.1L491.5 380.3L499.5 378.5L507.5 376.7L515.5 374.9L516.5 374.7"/>
<path d="M523.5 373.2L531.5 371.4L539.5 369.7L547.5 367.9L555.5 366.2L556.5 366.0"/>
<path d="M564.5 364.3L572.6 362.6L580.6 360.9L588.6 359.2L596.6 357.5L597.6 357.3"/>
<path d="M604.6 355.9L612.6 354.2L620.6 352.6L628.6 350.9L636.6 349.3L637.6 349.1"/>
<path d="M483.5 384.9L491.5 383.1"/>
<path d="M491.5 383.9L499.5 382.1L507.5 380.3L515.5 378.5L523.5 376.7L524.5 376.5"/>
<path d="M531.5 375.0L539.5 373.2L547.5 371.4L555.5 369.7L563.5 368.0L564.5 367.7"/>
<path d="M572.6 366.0L580.6 364.3L588.6 362.6L596.6 360.9L604.6 359.2L605.6 359.0"/>
<path d="M612.6 357.5L620.6 355.9L628.6 354.2L636.6 352.6L644.6 351.0L645.6 350.8"/>
<path d="M483.5 400.8L491.5 398.9L499.5 397.0L507.5 395.2L515.5 393.3L516.5 393.1"/>
<path d="M523.5 391.4L531.5 389.6L539.5 387.8L547.5 385.9L555.5 384.1L556.5 383.9"/>
<path d="M564.5 382.1L572.6 380.3L580.6 378.5L588.6 376.7L596.6 374.9L597.6 374.7"/>
<path d="M604.6 373.2L612.6 371.4L620.6 369.7L628.6 367.9L636.6 366.2L637.6 366.0"/>
<path d="M483.5 403.7L491.5 401.8L499.5 399.9L507.5 398.0L515.5 396.2L523.5 394.3L531.5 392.5L539.5 390.6L547.5 388.8L555.5 387.0L563.5 385.1L571.6 383.3L572.6 383.1"/>
<path d="M491.5 402.7L499.5 400.8L507.5 398.9L515.5 397.0L523.5 395.2L524.5 394.9"/>
<path d="M531.5 393.3L539.5 391.5L547.5 389.6L555.5 387.8L563.5 386.0L564.5 385.7"/>
<path d="M572.6 383.9L580.6 382.1L588.6 380.3L596.6 378.5L604.6 376.7L605.6 376.5"/>
<path d="M612.6 375.0L620.6 373.2L628.6 371.4L636.6 369.7L644.6 368.0L645.6 367.7"/>
<path d="M483.5 420.1L491.5 418.2L499.5 416.3L507.5 414.3L515.5 412.4L516.5 412.2"/>
<path d="M523.5 410.5L531.5 408.6L539.5 406.7L547.5 404.8L555.5 402.9L556.5 402.7"/>
<path d="M564.5 400.8L572.6 398.9L580.6 397.0L588.6 395.2L596.6 393.3L597.6 393.1"/>
<path d="M604.6 391.4L612.6 389.6L620.6 387.8L628.6 385.9L636.6 384.1L637.6 383.9"/>
<path d="M483.5 423.1L491.5 421.1L499.5 419.2L507.5 417.3L515.5 415.4L523.5 413.4L531.5 411.5L539.5 409.6L547.5 407.7L555.5 405.8L563.5 403.9L571.6 402.0L579.6 400.1L587.6 398.3L595.6 396.4L603.6 394.5L611.6 392.7L619.6 390.8L627.6 389.0L635.6 387.2L643.6 385.4L645.6 384.9"/>
<path d="M491.5 422.1L499.5 420.2L507.5 418.2L515.5 416.3L523.5 414.4L524.5 414.1"/>
<path d="M531.5 412.4L539.5 410.5L547.5 408.6L555.5 406.7L563.5 404.8L564.5 404.6"/>
<path d="M572.6 402.7L580.6 400.8L588.6 398.9L596.6 397.0L604.6 395.2L605.6 394.9"/>
<path d="M612.6 393.3L620.6 391.5L628.6 389.6L636.6 387.8L644.6 386.0L645.6 385.7"/>
<path d="M483.5 439.9L491.5 438.0L499.5 436.0L507.5 434.0L515.5 432.1L516.5 431.8"/>
<path d="M523.5 430.1L531.5 428.2L539.5 426.2L547.5 424.3L555.5 422.3L556.5 422.1"/>
<path d="M564.5 420.1L572.6 418.2L580.6 416.3L588.6 414.3L596.6 412.4L597.6 412.2"/>
<path d="M604.6 410.5L612.6 408.6L620.6 406.7L628.6 404.8L636.6 402.9L637.6 402.7"/>
<path d="M483.5 441.9L491.5 440.0L499.5 438.0L507.5 436.0L515.5 435.1L523.5 433.1L531.5 431.1L539.5 429.2L547.5 427.2L555.5 425.3L563.5 423.3L571.6 421.4L579.6 419.4L587.6 417.5L595.6 415.6L603.6 413.7L611.6 411.8L619.6 409.8L627.6 407.9L635.6 406.0L643.6 404.1L645.6 403.7"/>
<path d="M491.5 441.9L499.5 440.0L507.5 438.0L515.5 436.0L523.5 434.1L524.5 433.8"/>
<path d="M531.5 432.1L539.5 430.1L547.5 428.2L555.5 426.2L563.5 424.3L564.5 424.0"/>
<path d="M572.6 422.1L580.6 420.2L588.6 418.2L596.6 416.3L604.6 414.4L605.6 414.1"/>
<path d="M612.6 412.4L620.6 410.5L628.6 408.6L636.6 406.7L644.6 404.8L645.6 404.6"/>
<path d="M483.5 460.0L491.5 458.0L499.5 456.0L507.5 454.0L515.5 452.1L516.5 451.8"/>
<path d="M523.5 450.1L531.5 448.1L539.5 446.1L547.5 444.1L555.5 442.2L556.5 441.9"/>
<path d="M564.5 439.9L572.6 438.0L580.6 436.0L588.6 434.0L596.6 432.1L597.6 431.8"/>
<path d="M604.6 430.1L612.6 428.2L620.6 426.2L628.6 424.3L636.6 422.3L637.6 422.1"/>
<path d="M483.5 462.0L491.5 460.0L499.5 458.0L507.5 456.0L515.5 454.1L523.5 452.1L531.5 450.1L539.5 448.1L547.5 446.1L555.5 444.2L563.5 442.2L571.6 440.2L579.6 438.2L587.6 436.3L595.6 435.3L603.6 433.3L611.6 431.4L619.6 429.4L627.6 427.5L635.6 425.5L643.6 423.6L645.6 423.1"/>
<path d="M491.5 462.0L499.5 460.0L507.5 458.0L515.5 456.1L523.5 454.1L524.5 453.8"/>
<path d="M531.5 452.1L539.5 450.1L547.5 448.1L555.5 446.1L563.5 444.2L564.5 443.9"/>
<path d="M572.6 441.9L580.6 440.0L588.6 438.0L596.6 436.0L604.6 434.1L605.6 433.8"/>
<path d="M612.6 432.1L620.6 430.1L628.6 428.2L636.6 426.2L644.6 424.3L645.6 424.0"/>
<path d="M483.5 480.1L491.5 478.1L499.5 476.1L507.5 474.1L515.5 472.2L516.5 471.9"/>
<path d="M523.5 470.2L531.5 468.2L539.5 466.2L547.5 464.2L555.5 462.2L556.5 462.0"/>
<path d="M564.5 460.0L572.6 458.0L580.6 456.0L588.6 454.0L596.6 452.1L597.6 451.8"/>
<path d="M604.6 450.1L612.6 448.1L620.6 446.1L628.6 444.1L636.6 442.2L637.6 441.9"/>
<path d="M483.5 482.1L491.5 480.1L499.5 478.1L507.5 476.1L515.5 474.2L523.5 472.2L531.5 470.2L539.5 468.2L547.5 466.2L555.5 464.2L563.5 462.2L571.6 460.3L579.6 458.3L587.6 456.3L595.6 454.3L603.6 452.3L611.6 450.3L619.6 448.4L627.6 446.4L635.6 444.4L643.6 442.4L645.6 441.9"/>
<path d="M491.5 482.1L499.5 480.1L507.5 478.1L515.5 476.2L523.5 474.2L524.5 473.9"/>
<path d="M531.5 472.2L539.5 470.2L547.5 468.2L555.5 466.2L563.5 464.2L564.5 464.0"/>
<path d="M572.6 462.0L580.6 460.0L588.6 458.0L596.6 456.1L604.6 454.1L605.6 453.8"/>
<path d="M612.6 452.1L620.6 450.1L628.6 448.1L636.6 446.1L644.6 444.2L645.6 443.9"/>
<path d="M483.5 500.0L491.5 498.0L499.5 496.1L507.5 494.1L515.5 492.1L516.5 491.9"/>
<path d="M523.5 490.2L531.5 488.2L539.5 486.2L547.5 484.3L555.5 482.3L556.5 482.1"/>
<path d="M564.5 480.1L572.6 478.1L580.6 476.1L588.6 474.1L596.6 472.2L597.6 471.9"/>
<path d="M604.6 470.2L612.6 468.2L620.6 466.2L628.6 464.2L636.6 462.2L637.6 462.0"/>
<path d="M483.5 500.9L491.5 499.0L499.5 497.0L507.5 495.1L515.5 493.1L523.5 491.2L531.5 489.2L539.5 488.2L547.5 486.3L555.5 484.3L563.5 482.3L571.6 480.3L579.6 478.4L587.6 476.4L595.6 474.4L603.6 472.4L611.6 470.4L619.6 468.5L627.6 466.5L635.6 464.5L643.6 462.5L645.6 462.0"/>
<path d="M491.5 501.9L499.5 500.0L507.5 498.0L515.5 496.1L523.5 494.1L524.5 493.9"/>
<path d="M531.5 492.2L539.5 490.2L547.5 488.2L555.5 486.3L563.5 484.3L564.5 484.1"/>
<path d="M572.6 482.1L580.6 480.1L588.6 478.1L596.6 476.2L604.6 474.2L605.6 473.9"/>
<path d="M612.6 472.2L620.6 470.2L628.6 468.2L636.6 466.2L644.6 464.2L645.6 464.0"/>
<path d="M483.5 519.4L491.5 517.5L499.5 515.6L507.5 513.7L515.5 511.8L516.5 511.6"/>
<path d="M523.5 509.9L531.5 508.0L539.5 506.0L547.5 504.1L555.5 502.1L556.5 501.9"/>
<path d="M564.5 500.0L572.6 498.0L580.6 496.1L588.6 494.1L596.6 492.1L597.6 491.9"/>
<path d="M604.6 490.2L612.6 488.2L620.6 486.2L628.6 484.3L636.6 482.3L637.6 482.1"/>
<path d="M483.5 520.3L491.5 518.4L499.5 516.5L507.5 514.6L515.5 512.7L523.5 510.8L531.5 508.9L539.5 507.0L547.5 505.0L555.5 503.1L563.5 501.2L571.6 499.2L579.6 497.3L587.6 495.3L595.6 493.4L603.6 491.4L611.6 489.4L619.6 488.5L627.6 486.5L635.6 484.5L643.6 482.6L645.6 482.1"/>
<path d="M491.5 521.3L499.5 519.5L507.5 517.6L515.5 515.7L523.5 513.7L524.5 513.5"/>
<path d="M531.5 511.8L539.5 509.9L547.5 508.0L555.5 506.1L563.5 504.1L564.5 503.9"/>
<path d="M572.6 501.9L580.6 500.0L588.6 498.0L596.6 496.1L604.6 494.1L605.6 493.9"/>
<path d="M612.6 492.2L620.6 490.2L628.6 488.2L636.6 486.3L644.6 484.3L645.6 484.1"/>
<path d="M483.5 538.3L491.5 536.4L499.5 534.6L507.5 532.8L515.5 530.9L516.5 530.7"/>
<path d="M523.5 529.1L531.5 527.2L539.5 525.3L547.5 523.4L555.5 521.6L556.5 521.3"/>
<path d="M564.5 519.4L572.6 517.5L580.6 515.6L588.6 513.7L596.6 511.8L597.6 511.6"/>
<path d="M604.6 509.9L612.6 508.0L620.6 506.0L628.6 504.1L636.6 502.1L637.6 501.9"/>
<path d="M483.5 539.1L491.5 537.3L499.5 535.4L507.5 533.6L515.5 531.8L523.5 529.9L531.5 528.1L539.5 526.2L547.5 524.3L555.5 522.4L563.5 520.6L571.6 518.7L579.6 516.8L587.6 514.9L595.6 513.0L603.6 511.1L611.6 509.1L619.6 507.2L627.6 505.3L635.6 503.3L643.6 501.4L645.6 500.9"/>
<path d="M491.5 540.1L499.5 538.3L507.5 536.5L515.5 534.6L523.5 532.8L524.5 532.6"/>
<path d="M531.5 530.9L539.5 529.1L547.5 527.2L555.5 525.3L563.5 523.5L564.5 523.2"/>
<path d="M572.6 521.3L580.6 519.5L588.6 517.6L596.6 515.7L604.6 513.7L605.6 513.5"/>
<path d="M612.6 511.8L620.6 509.9L628.6 508.0L636.6 506.1L644.6 504.1L645.6 503.9"/>
<path d="M483.5 556.3L491.5 554.5L499.5 552.8L507.5 551.0L515.5 549.3L516.5 549.0"/>
<path d="M523.5 547.5L531.5 545.7L539.5 543.9L547.5 542.1L555.5 540.3L556.5 540.1"/>
<path d="M564.5 538.3L572.6 536.4L580.6 534.6L588.6 532.8L596.6 530.9L597.6 530.7"/>
<path d="M604.6 529.1L612.6 527.2L620.6 525.3L628.6 523.4L636.6 521.6L637.6 521.3"/>
<path d="M556.5 540.9L564.5 539.1L572.6 537.3L580.6 535.4L588.6 533.6L596.6 531.8L604.6 529.9L612.6 528.1L620.6 526.2L628.6 524.3L636.6 522.4L644.6 520.6L645.6 520.3"/>
<path d="M491.5 558.0L499.5 556.3L507.5 554.6L515.5 552.8L523.5 551.1L524.5 550.8"/>
<path d="M531.5 549.3L539.5 547.5L547.5 545.7L555.5 543.9L563.5 542.1L564.5 541.9"/>
<path d="M572.6 540.1L580.6 538.3L588.6 536.5L596.6 534.6L604.6 532.8L605.6 532.6"/>
<path d="M612.6 530.9L620.6 529.1L628.6 527.2L636.6 525.3L644.6 523.5L645.6 523.2"/>
<path d="M483.5 573.2L491.5 571.6L499.5 570.0L507.5 568.3L515.5 566.7L516.5 566.5"/>
<path d="M523.5 565.0L531.5 563.3L539.5 561.6L547.5 559.9L555.5 558.2L556.5 558.0"/>
<path d="M564.5 556.3L572.6 554.5L580.6 552.8L588.6 551.0L596.6 549.3L597.6 549.0"/>
<path d="M604.6 547.5L612.6 545.7L620.6 543.9L628.6 542.1L636.6 540.3L637.6 540.1"/>
<path d="M637.6 540.9L645.6 539.1"/>
<path d="M491.5 574.9L499.5 573.3L507.5 571.6L515.5 570.0L523.5 568.3L524.5 568.1"/>
<path d="M531.5 566.7L539.5 565.0L547.5 563.3L555.5 561.6L563.5 559.9L564.5 559.7"/>
<path d="M572.6 558.0L580.6 556.3L588.6 554.6L596.6 552.8L604.6 551.1L605.6 550.8"/>
<path d="M612.6 549.3L620.6 547.5L628.6 545.7L636.6 543.9L644.6 542.1L645.6 541.9"/>
<path d="M483.5 589.0L491.5 587.5L499.5 586.0L507.5 584.5L515.5 582.9L516.5 582.7"/>
<path d="M523.5 581.4L531.5 579.8L539.5 578.2L547.5 576.6L555.5 575.0L556.5 574.8"/>
<path d="M564.5 573.2L572.6 571.6L580.6 570.0L588.6 568.3L596.6 566.7L597.6 566.5"/>
<path d="M604.6 565.0L612.6 563.3L620.6 561.6L628.6 559.9L636.6 558.2L637.6 558.0"/>
<path d="M491.5 590.5L499.5 589.0L507.5 587.5L515.5 586.0L523.5 584.5L524.5 584.3"/>
<path d="M531.5 582.9L539.5 581.4L547.5 579.8L555.5 578.3L563.5 576.7L564.5 576.5"/>
<path d="M572.6 574.9L580.6 573.3L588.6 571.6L596.6 570.0L604.6 568.3L605.6 568.1"/>
<path d="M612.6 566.7L620.6 565.0L628.6 563.3L636.6 561.6L644.6 559.9L645.6 559.7"/>
<path d="M483.5 603.3L491.5 602.0L499.5 600.6L507.5 599.2L515.5 597.8L516.5 597.7"/>
<path d="M523.5 596.4L531.5 595.0L539.5 593.6L547.5 592.1L555.5 590.6L556.5 590.5"/>
<path d="M564.5 589.0L572.6 587.5L580.6 586.0L588.6 584.5L596.6 582.9L597.6 582.7"/>
<path d="M604.6 581.4L612.6 579.8L620.6 578.2L628.6 576.6L636.6 575.0L637.6 574.8"/>
<path d="M491.5 604.7L499.5 603.4L507.5 602.0L515.5 600.6L523.5 599.3L524.5 599.1"/>
<path d="M531.5 597.9L539.5 596.5L547.5 595.0L555.5 593.6L563.5 592.1L564.5 592.0"/>
<path d="M572.6 590.5L580.6 589.0L588.6 587.5L596.6 586.0L604.6 584.5L605.6 584.3"/>
<path d="M612.6 582.9L620.6 581.4L628.6 579.8L636.6 578.3L644.6 576.7L645.6 576.5"/>
<path d="M483.5 616.1L491.5 615.0L499.5 613.7L507.5 612.5L515.5 611.3L516.5 611.1"/>
<path d="M523.5 610.0L531.5 608.8L539.5 607.5L547.5 606.2L555.5 604.8L556.5 604.7"/>
<path d="M564.5 603.3L572.6 602.0L580.6 600.6L588.6 599.2L596.6 597.8L597.6 597.7"/>
<path d="M604.6 596.4L612.6 595.0L620.6 593.6L628.6 592.1L636.6 590.6L637.6 590.5"/>
<path d="M491.5 617.3L499.5 616.2L507.5 615.0L515.5 613.8L523.5 612.5L524.5 612.4"/>
<path d="M531.5 611.3L539.5 610.0L547.5 608.8L555.5 607.5L563.5 606.2L564.5 606.0"/>
<path d="M572.6 604.7L580.6 603.4L588.6 602.0L596.6 600.6L604.6 599.3L605.6 599.1"/>
<path d="M612.6 597.9L620.6 596.5L628.6 595.0L636.6 593.6L644.6 592.1L645.6 592.0"/>
<path d="M483.5 627.3L491.5 626.2L499.5 625.2L507.5 624.2L515.5 623.1L516.5 622.9"/>
<path d="M523.5 622.0L531.5 620.9L539.5 619.8L547.5 618.6L555.5 617.5L556.5 617.3"/>
<path d="M564.5 616.1L572.6 615.0L580.6 613.7L588.6 612.5L596.6 611.3L597.6 611.1"/>
<path d="M604.6 610.0L612.6 608.8L620.6 607.5L628.6 606.2L636.6 604.8L637.6 604.7"/>
<path d="M491.5 628.3L499.5 627.3L507.5 626.3L515.5 625.2L523.5 624.2L524.5 624.0"/>
<path d="M531.5 623.1L539.5 622.0L547.5 620.9L555.5 619.8L563.5 618.6L564.5 618.5"/>
<path d="M572.6 617.3L580.6 616.2L588.6 615.0L596.6 613.8L604.6 612.5L605.6 612.4"/>
<path d="M612.6 611.3L620.6 610.0L628.6 608.8L636.6 607.5L644.6 606.2L645.6 606.0"/>
<path d="M483.5 636.6L491.5 635.7L499.5 634.9L507.5 634.0L515.5 633.1L516.5 633.0"/>
<path d="M523.5 632.2L531.5 631.3L539.5 630.3L547.5 629.4L555.5 628.4L556.5 628.3"/>
<path d="M564.5 627.3L572.6 626.2L580.6 625.2L588.6 624.2L596.6 623.1L597.6 622.9"/>
<path d="M604.6 622.0L612.6 620.9L620.6 619.8L628.6 618.6L636.6 617.5L637.6 617.3"/>
<path d="M491.5 637.4L499.5 636.6L507.5 635.8L515.5 634.9L523.5 634.0L524.5 633.9"/>
<path d="M531.5 633.1L539.5 632.2L547.5 631.3L555.5 630.4L563.5 629.4L564.5 629.3"/>
<path d="M572.6 628.3L580.6 627.3L588.6 626.3L596.6 625.2L604.6 624.2L605.6 624.0"/>
<path d="M612.6 623.1L620.6 622.0L628.6 620.9L636.6 619.8L644.6 618.6L645.6 618.5"/>
<path d="M483.5 644.0L491.5 643.3L499.5 642.7L507.5 642.0L515.5 641.3L516.5 641.2"/>
<path d="M523.5 640.6L531.5 639.8L539.5 639.1L547.5 638.3L555.5 637.5L556.5 637.4"/>
<path d="M564.5 636.6L572.6 635.7L580.6 634.9L588.6 634.0L596.6 633.1L597.6 633.0"/>
<path d="M604.6 632.2L612.6 631.3L620.6 630.3L628.6 629.4L636.6 628.4L637.6 628.3"/>
<path d="M491.5 644.6L499.5 644.0L507.5 643.3L515.5 642.7L523.5 642.0L524.5 641.9"/>
<path d="M531.5 641.3L539.5 640.6L547.5 639.8L555.5 639.1L563.5 638.3L564.5 638.2"/>
<path d="M572.6 637.4L580.6 636.6L588.6 635.8L596.6 634.9L604.6 634.0L605.6 633.9"/>
<path d="M612.6 633.1L620.6 632.2L628.6 631.3L636.6 630.4L644.6 629.4L645.6 629.3"/>
<path d="M483.5 649.4L491.5 648.9L499.5 648.5L507.5 648.0L515.5 647.5L516.5 647.4"/>
<path d="M523.5 647.0L531.5 646.4L539.5 645.9L547.5 645.3L555.5 644.7L556.5 644.6"/>
<path d="M564.5 644.0L572.6 643.3L580.6 642.7L588.6 642.0L596.6 641.3L597.6 641.2"/>
<path d="M604.6 640.6L612.6 639.8L620.6 639.1L628.6 638.3L636.6 637.5L637.6 637.4"/>
<path d="M491.5 649.8L499.5 649.4L507.5 648.9L515.5 648.5L523.5 648.0L524.5 647.9"/>
<path d="M531.5 647.5L539.5 647.0L547.5 646.4L555.5 645.9L563.5 645.3L564.5 645.2"/>
<path d="M572.6 644.6L580.6 644.0L588.6 643.3L596.6 642.7L604.6 642.0L605.6 641.9"/>
<path d="M612.6 641.3L620.6 640.6L628.6 639.8L636.6 639.1L644.6 638.3L645.6 638.2"/>
<path d="M483.5 652.7L491.5 652.5L499.5 652.2L507.5 652.0L515.5 651.7L516.5 651.6"/>
<path d="M523.5 651.3L531.5 651.0L539.5 650.6L547.5 650.3L555.5 649.9L556.5 649.8"/>
<path d="M564.5 649.4L572.6 648.9L580.6 648.5L588.6 648.0L596.6 647.5L597.6 647.4"/>
<path d="M604.6 647.0L612.6 646.4L620.6 645.9L628.6 645.3L636.6 644.7L637.6 644.6"/>
<path d="M491.5 652.9L499.5 652.7L507.5 652.5L515.5 652.2L523.5 652.0L524.5 651.9"/>
<path d="M531.5 651.7L539.5 651.3L547.5 651.0L555.5 650.6L563.5 650.3L564.5 650.2"/>
<path d="M572.6 649.8L580.6 649.4L588.6 648.9L596.6 648.5L604.6 648.0L605.6 647.9"/>
<path d="M612.6 647.5L620.6 647.0L628.6 646.4L636.6 645.9L644.6 645.3L645.6 645.2"/>
<path d="M483.5 654.0L491.5 654.0L499.5 653.9L507.5 653.8L515.5 653.7L516.5 653.7"/>
<path d="M523.5 653.6L531.5 653.5L539.5 653.3L547.5 653.2L555.5 653.0L556.5 652.9"/>
<path d="M564.5 652.7L572.6 652.5L580.6 652.2L588.6 652.0L596.6 651.7L597.6 651.6"/>
<path d="M604.6 651.3L612.6 651.0L620.6 650.6L628.6 650.3L636.6 649.9L637.6 649.8"/>
<path d="M492.5 654.0L500.5 654.0L508.5 654.0L516.5 653.9L524.5 653.8"/>
<path d="M531.5 653.7L539.5 653.6L547.5 653.5L555.5 653.3L563.5 653.2L564.5 653.1"/>
<path d="M572.6 652.9L580.6 652.7L588.6 652.5L596.6 652.2L604.6 652.0L605.6 651.9"/>
<path d="M612.6 651.7L620.6 651.3L628.6 651.0L636.6 650.6L644.6 650.3L645.6 650.2"/>
<path d="M564.5 654.0L572.6 654.0L580.6 653.9L588.6 653.8L596.6 653.7L597.6 653.7"/>
<path d="M604.6 653.6L612.6 653.5L620.6 653.3L628.6 653.2L636.6 653.0L637.6 652.9"/>
<path d="M573.6 654.0L581.6 654.0L589.6 654.0L597.6 653.9L605.6 653.8"/>
<path d="M612.6 653.7L620.6 653.6L628.6 653.5L636.6 653.3L644.6 653.2L645.6 653.1"/>
<path d="M564.55 269.5L564.55 270.5"/>
<path d="M524.025 269.658L524.025 270.868"/>
<path d="M605.075 269.658L605.075 270.868"/>
<path d="M564.55 270.343L564.55 271.761"/>
<path d="M524.025 271.551L524.025 273.177"/>
<path d="M605.075 271.551L605.075 273.177"/>
<path d="M564.55 273.28L564.55 275.111"/>
<path d="M524.025 275.525L524.025 277.56"/>
<path d="M605.075 275.525L605.075 277.56"/>
<path d="M478 273.28L483.5 273.28"/>
<path d="M479 275.111L482.5 275.111"/>
<path d="M483.5 273.28L483.5 275.111"/>
<path d="M476 277.151L479.5 274.196"/>
<path d="M476 279.066L479.5 274.196"/>
<path d="M652 273.28L645.6 273.28"/>
<path d="M651 275.111L646.6 275.111"/>
<path d="M645.6 273.28L645.6 275.111"/>
<path d="M654 277.151L650.5 274.196"/>
<path d="M654 279.066L650.5 274.196"/>
<path d="M480.5 271.761L480.5 273.28"/>
<path d="M649.5 271.761L649.5 273.28"/>
<path d="M564.55 278.279L564.55 280.515"/>
<path d="M524.025 281.536L524.025 283.969"/>
<path d="M605.075 281.536L605.075 283.969"/>
<path d="M478 278.279L483.5 278.279"/>
<path d="M479 280.515L482.5 280.515"/>
<path d="M483.5 278.279L483.5 280.515"/>
<path d="M476 282.022L479.5 279.397"/>
<path d="M476 284.381L479.5 279.397"/>
<path d="M652 278.279L645.6 278.279"/>
<path d="M651 280.515L646.6 280.515"/>
<path d="M645.6 278.279L645.6 280.515"/>
<path d="M654 282.022L650.5 279.397"/>
<path d="M654 284.381L650.5 279.397"/>
<path d="M480.5 275.111L480.5 278.279"/>
<path d="M649.5 275.111L649.5 278.279"/>
<path d="M564.55 285.286L564.55 287.913"/>
<path d="M524.025 289.519L524.025 292.335"/>
<path d="M605.075 289.519L605.075 292.335"/>
<path d="M478 285.286L483.5 285.286"/>
<path d="M479 287.913L482.5 287.913"/>
<path d="M483.5 285.286L483.5 287.913"/>
<path d="M476 288.859L479.5 286.599"/>
<path d="M476 291.648L479.5 286.599"/>
<path d="M652 285.286L645.6 285.286"/>
<path d="M651 287.913L646.6 287.913"/>
<path d="M645.6 285.286L645.6 287.913"/>
<path d="M654 288.859L650.5 286.599"/>
<path d="M654 291.648L650.5 286.599"/>
<path d="M480.5 280.515L480.5 285.286"/>
<path d="M649.5 280.515L649.5 285.286"/>
<path d="M564.55 294.223L564.55 297.223"/>
<path d="M524.025 299.386L524.025 302.565"/>
<path d="M605.075 299.386L605.075 302.565"/>
<path d="M478 294.223L483.5 294.223"/>
<path d="M479 297.223L482.5 297.223"/>
<path d="M483.5 294.223L483.5 297.223"/>
<path d="M476 297.587L479.5 295.723"/>
<path d="M476 300.787L479.5 295.723"/>
<path d="M652 294.223L645.6 294.223"/>
<path d="M651 297.223L646.6 297.223"/>
<path d="M645.6 294.223L645.6 297.223"/>
<path d="M654 297.587L650.5 295.723"/>
<path d="M654 300.787L650.5 295.723"/>
<path d="M480.5 287.913L480.5 294.223"/>
<path d="M649.5 287.913L649.5 294.223"/>
<path d="M564.55 304.993L564.55 308.344"/>
<path d="M524.025 311.029L524.025 314.547"/>
<path d="M605.075 311.029L605.075 314.547"/>
<path d="M478 304.993L483.5 304.993"/>
<path d="M479 308.344L482.5 308.344"/>
<path d="M483.5 304.993L483.5 308.344"/>
<path d="M476 308.112L479.5 306.669"/>
<path d="M476 311.698L479.5 306.669"/>
<path d="M652 304.993L645.6 304.993"/>
<path d="M651 308.344L646.6 308.344"/>
<path d="M645.6 304.993L645.6 308.344"/>
<path d="M654 308.112L650.5 306.669"/>
<path d="M654 311.698L650.5 306.669"/>
<path d="M480.5 297.223L480.5 304.993"/>
<path d="M649.5 297.223L649.5 304.993"/>
<path d="M564.55 317.478L564.55 321.154"/>
<path d="M524.025 324.321L524.025 328.15"/>
<path d="M605.075 324.321L605.075 328.15"/>
<path d="M478 317.478L483.5 317.478"/>
<path d="M479 321.154L482.5 321.154"/>
<path d="M483.5 317.478L483.5 321.154"/>
<path d="M476 320.317L479.5 319.316"/>
<path d="M476 324.261L479.5 319.316"/>
<path d="M652 317.478L645.6 317.478"/>
<path d="M651 321.154L646.6 321.154"/>
<path d="M645.6 317.478L645.6 321.154"/>
<path d="M654 320.317L650.5 319.316"/>
<path d="M654 324.261L650.5 319.316"/>
<path d="M480.5 308.344L480.5 317.478"/>
<path d="M649.5 308.344L649.5 317.478"/>
<path d="M564.55 331.541L564.55 335.513"/>
<path d="M524.025 339.116L524.025 343.225"/>
<path d="M605.075 339.116L605.075 343.225"/>
<path d="M478 331.541L483.5 331.541"/>
<path d="M479 335.513L482.5 335.513"/>
<path d="M483.5 331.541L483.5 335.513"/>
<path d="M476 334.069L479.5 333.527"/>
<path d="M476 338.338L479.5 333.527"/>
<path d="M652 331.541L645.6 331.541"/>
<path d="M651 335.513L646.6 335.513"/>
<path d="M645.6 331.541L645.6 335.513"/>
<path d="M654 334.069L650.5 333.527"/>
<path d="M654 338.338L650.5 333.527"/>
<path d="M480.5 321.154L480.5 331.541"/>
<path d="M649.5 321.154L649.5 331.541"/>
<path d="M564.55 347.027L564.55 351.263"/>
<path d="M524.025 355.252L524.025 359.607"/>
<path d="M605.075 355.252L605.075 359.607"/>
<path d="M478 347.027L483.5 347.027"/>
<path d="M479 351.263L482.5 351.263"/>
<path d="M483.5 347.027L483.5 351.263"/>
<path d="M476 349.217L479.5 349.145"/>
<path d="M476 353.776L479.5 349.145"/>
<path d="M652 347.027L645.6 347.027"/>
<path d="M651 351.263L646.6 351.263"/>
<path d="M645.6 347.027L645.6 351.263"/>
<path d="M654 349.217L650.5 349.145"/>
<path d="M654 353.776L650.5 349.145"/>
<path d="M480.5 335.513L480.5 347.027"/>
<path d="M649.5 335.513L649.5 347.027"/>
<path d="M564.55 363.768L564.55 368.232"/>
<path d="M524.025 372.552L524.025 377.116"/>
<path d="M605.075 372.552L605.075 377.116"/>
<path d="M478 363.768L483.5 363.768"/>
<path d="M479 368.232L482.5 368.232"/>
<path d="M483.5 363.768L483.5 368.232"/>
<path d="M478.5 366L487.5 366"/>
<path d="M479.5 365L482.5 365"/>
<path d="M476 365.595L479.5 366"/>
<path d="M476 370.405L479.5 366"/>
<path d="M652 363.768L645.6 363.768"/>
<path d="M651 368.232L646.6 368.232"/>
<path d="M645.6 363.768L645.6 368.232"/>
<path d="M651.5 366L641.6 366"/>
<path d="M650.5 365L646.6 365"/>
<path d="M654 365.595L650.5 366"/>
<path d="M654 370.405L650.5 366"/>
<path d="M480.5 351.263L480.5 363.768"/>
<path d="M649.5 351.263L649.5 363.768"/>
<path d="M564.55 381.579L564.55 386.234"/>
<path d="M524.025 390.826L524.025 395.561"/>
<path d="M605.075 390.826L605.075 395.561"/>
<path d="M478 381.579L483.5 381.579"/>
<path d="M479 386.234L482.5 386.234"/>
<path d="M483.5 381.579L483.5 386.234"/>
<path d="M478.5 383.907L487.5 383.907"/>
<path d="M479.5 382.907L482.5 382.907"/>
<path d="M476 383.024L479.5 383.907"/>
<path d="M476 388.043L479.5 383.907"/>
<path d="M652 381.579L645.6 381.579"/>
<path d="M651 386.234L646.6 386.234"/>
<path d="M645.6 381.579L645.6 386.234"/>
<path d="M651.5 383.907L641.6 383.907"/>
<path d="M650.5 382.907L646.6 382.907"/>
<path d="M654 383.024L650.5 383.907"/>
<path d="M654 388.043L650.5 383.907"/>
<path d="M480.5 368.232L480.5 381.579"/>
<path d="M649.5 368.232L649.5 381.579"/>
<path d="M564.55 400.267L564.55 405.071"/>
<path d="M524.025 409.875L524.025 414.739"/>
<path d="M605.075 409.875L605.075 414.739"/>
<path d="M478 400.267L483.5 400.267"/>
<path d="M479 405.071L482.5 405.071"/>
<path d="M483.5 400.267L483.5 405.071"/>
<path d="M478.5 402.669L487.5 402.669"/>
<path d="M479.5 401.669L482.5 401.669"/>
<path d="M476 401.312L479.5 402.669"/>
<path d="M476 406.497L479.5 402.669"/>
<path d="M652 400.267L645.6 400.267"/>
<path d="M651 405.071L646.6 405.071"/>
<path d="M645.6 400.267L645.6 405.071"/>
<path d="M651.5 402.669L641.6 402.669"/>
<path d="M650.5 401.669L646.6 401.669"/>
<path d="M654 401.312L650.5 402.669"/>
<path d="M654 406.497L650.5 402.669"/>
<path d="M480.5 386.234L480.5 400.267"/>
<path d="M649.5 386.234L649.5 400.267"/>
<path d="M564.55 419.625L564.55 424.537"/>
<path d="M524.025 429.489L524.025 434.44"/>
<path d="M605.075 429.489L605.075 434.44"/>
<path d="M478 419.625L483.5 419.625"/>
<path d="M479 424.537L482.5 424.537"/>
<path d="M483.5 419.625L483.5 424.537"/>
<path d="M478.5 422.081L487.5 422.081"/>
<path d="M479.5 421.081L482.5 421.081"/>
<path d="M476 420.261L479.5 422.081"/>
<path d="M476 425.565L479.5 422.081"/>
<path d="M652 419.625L645.6 419.625"/>
<path d="M651 424.537L646.6 424.537"/>
<path d="M645.6 419.625L645.6 424.537"/>
<path d="M651.5 422.081L641.6 422.081"/>
<path d="M650.5 421.081L646.6 421.081"/>
<path d="M654 420.261L650.5 422.081"/>
<path d="M654 425.565L650.5 422.081"/>
<path d="M480.5 405.071L480.5 419.625"/>
<path d="M649.5 405.071L649.5 419.625"/>
<path d="M564.55 439.441L564.55 444.42"/>
<path d="M524.025 449.454L524.025 454.449"/>
<path d="M605.075 449.454L605.075 454.449"/>
<path d="M478 439.441L483.5 439.441"/>
<path d="M479 444.42L482.5 444.42"/>
<path d="M483.5 439.441L483.5 444.42"/>
<path d="M478.5 441.931L487.5 441.931"/>
<path d="M479.5 440.931L482.5 440.931"/>
<path d="M476 439.661L479.5 441.931"/>
<path d="M476 445.037L479.5 441.931"/>
<path d="M652 439.441L645.6 439.441"/>
<path d="M651 444.42L646.6 444.42"/>
<path d="M645.6 439.441L645.6 444.42"/>
<path d="M651.5 441.931L641.6 441.931"/>
<path d="M650.5 440.931L646.6 440.931"/>
<path d="M654 439.661L650.5 441.931"/>
<path d="M654 445.037L650.5 441.931"/>
<path d="M480.5 424.537L480.5 439.441"/>
<path d="M649.5 424.537L649.5 439.441"/>
<path d="M564.55 459.5L564.55 464.5"/>
<path d="M524.025 469.551L524.025 474.546"/>
<path d="M605.075 469.551L605.075 474.546"/>
<path d="M478 459.5L483.5 459.5"/>
<path d="M479 464.5L482.5 464.5"/>
<path d="M483.5 459.5L483.5 464.5"/>
<path d="M478.5 462L487.5 462"/>
<path d="M479.5 461L482.5 461"/>
<path d="M476 459.3L479.5 462"/>
<path d="M476 464.7L479.5 462"/>
<path d="M652 459.5L645.6 459.5"/>
<path d="M651 464.5L646.6 464.5"/>
<path d="M645.6 459.5L645.6 464.5"/>
<path d="M651.5 462L641.6 462"/>
<path d="M650.5 461L646.6 461"/>
<path d="M654 459.3L650.5 462"/>
<path d="M654 464.7L650.5 462"/>
<path d="M480.5 444.42L480.5 459.5"/>
<path d="M649.5 444.42L649.5 459.5"/>
<path d="M564.55 479.58L564.55 484.559"/>
<path d="M524.025 489.56L524.025 494.511"/>
<path d="M605.075 489.56L605.075 494.511"/>
<path d="M478 479.58L483.5 479.58"/>
<path d="M479 484.559L482.5 484.559"/>
<path d="M483.5 479.58L483.5 484.559"/>
<path d="M478.5 482.069L487.5 482.069"/>
<path d="M479.5 481.069L482.5 481.069"/>
<path d="M476 478.963L479.5 482.069"/>
<path d="M476 484.339L479.5 482.069"/>
<path d="M652 479.58L645.6 479.58"/>
<path d="M651 484.559L646.6 484.559"/>
<path d="M645.6 479.58L645.6 484.559"/>
<path d="M651.5 482.069L641.6 482.069"/>
<path d="M650.5 481.069L646.6 481.069"/>
<path d="M654 478.963L650.5 482.069"/>
<path d="M654 484.339L650.5 482.069"/>
<path d="M480.5 464.5L480.5 479.58"/>
<path d="M649.5 464.5L649.5 479.58"/>
<path d="M564.55 499.463L564.55 504.375"/>
<path d="M524.025 509.261L524.025 514.125"/>
<path d="M605.075 509.261L605.075 514.125"/>
<path d="M478 499.463L483.5 499.463"/>
<path d="M479 504.375L482.5 504.375"/>
<path d="M483.5 499.463L483.5 504.375"/>
<path d="M478.5 501.919L487.5 501.919"/>
<path d="M479.5 500.919L482.5 500.919"/>
<path d="M476 498.435L479.5 501.919"/>
<path d="M476 503.739L479.5 501.919"/>
<path d="M652 499.463L645.6 499.463"/>
<path d="M651 504.375L646.6 504.375"/>
<path d="M645.6 499.463L645.6 504.375"/>
<path d="M651.5 501.919L641.6 501.919"/>
<path d="M650.5 500.919L646.6 500.919"/>
<path d="M654 498.435L650.5 501.919"/>
<path d="M654 503.739L650.5 501.919"/>
<path d="M480.5 484.559L480.5 499.463"/>
<path d="M649.5 484.559L649.5 499.463"/>
<path d="M564.55 518.929L564.55 523.733"/>
<path d="M524.025 528.439L524.025 533.174"/>
<path d="M605.075 528.439L605.075 533.174"/>
<path d="M478 518.929L483.5 518.929"/>
<path d="M479 523.733L482.5 523.733"/>
<path d="M483.5 518.929L483.5 523.733"/>
<path d="M478.5 521.331L487.5 521.331"/>
<path d="M479.5 520.331L482.5 520.331"/>
<path d="M476 517.503L479.5 521.331"/>
<path d="M476 522.688L479.5 521.331"/>
<path d="M652 518.929L645.6 518.929"/>
<path d="M651 523.733L646.6 523.733"/>
<path d="M645.6 518.929L645.6 523.733"/>
<path d="M651.5 521.331L641.6 521.331"/>
<path d="M650.5 520.331L646.6 520.331"/>
<path d="M654 517.503L650.5 521.331"/>
<path d="M654 522.688L650.5 521.331"/>
<path d="M480.5 504.375L480.5 518.929"/>
<path d="M649.5 504.375L649.5 518.929"/>
<path d="M564.55 537.766L564.55 542.421"/>
<path d="M524.025 546.884L524.025 551.448"/>
<path d="M605.075 546.884L605.075 551.448"/>
<path d="M478 537.766L483.5 537.766"/>
<path d="M479 542.421L482.5 542.421"/>
<path d="M483.5 537.766L483.5 542.421"/>
<path d="M478.5 540.093L487.5 540.093"/>
<path d="M479.5 539.093L482.5 539.093"/>
<path d="M476 535.957L479.5 540.093"/>
<path d="M476 540.976L479.5 540.093"/>
<path d="M652 537.766L645.6 537.766"/>
<path d="M651 542.421L646.6 542.421"/>
<path d="M645.6 537.766L645.6 542.421"/>
<path d="M651.5 540.093L641.6 540.093"/>
<path d="M650.5 539.093L646.6 539.093"/>
<path d="M654 535.957L650.5 540.093"/>
<path d="M654 540.976L650.5 540.093"/>
<path d="M480.5 523.733L480.5 537.766"/>
<path d="M649.5 523.733L649.5 537.766"/>
<path d="M564.55 555.768L564.55 560.232"/>
<path d="M524.025 564.393L524.025 568.748"/>
<path d="M605.075 564.393L605.075 568.748"/>
<path d="M478 555.768L483.5 555.768"/>
<path d="M479 560.232L482.5 560.232"/>
<path d="M483.5 555.768L483.5 560.232"/>
<path d="M478.5 558L487.5 558"/>
<path d="M479.5 557L482.5 557"/>
<path d="M476 553.595L479.5 558"/>
<path d="M476 558.405L479.5 558"/>
<path d="M652 555.768L645.6 555.768"/>
<path d="M651 560.232L646.6 560.232"/>
<path d="M645.6 555.768L645.6 560.232"/>
<path d="M651.5 558L641.6 558"/>
<path d="M650.5 557L646.6 557"/>
<path d="M654 553.595L650.5 558"/>
<path d="M654 558.405L650.5 558"/>
<path d="M480.5 542.421L480.5 555.768"/>
<path d="M649.5 542.421L649.5 555.768"/>
<path d="M564.55 572.737L564.55 576.973"/>
<path d="M524.025 580.775L524.025 584.884"/>
<path d="M605.075 580.775L605.075 584.884"/>
<path d="M478 572.737L483.5 572.737"/>
<path d="M479 576.973L482.5 576.973"/>
<path d="M483.5 572.737L483.5 576.973"/>
<path d="M476 570.224L479.5 574.855"/>
<path d="M476 574.783L479.5 574.855"/>
<path d="M652 572.737L645.6 572.737"/>
<path d="M651 576.973L646.6 576.973"/>
<path d="M645.6 572.737L645.6 576.973"/>
<path d="M654 570.224L650.5 574.855"/>
<path d="M654 574.783L650.5 574.855"/>
<path d="M480.5 560.232L480.5 572.737"/>
<path d="M649.5 560.232L649.5 572.737"/>
<path d="M564.55 588.487L564.55 592.459"/>
<path d="M524.025 595.85L524.025 599.679"/>
<path d="M605.075 595.85L605.075 599.679"/>
<path d="M478 588.487L483.5 588.487"/>
<path d="M479 592.459L482.5 592.459"/>
<path d="M483.5 588.487L483.5 592.459"/>
<path d="M476 585.662L479.5 590.473"/>
<path d="M476 589.931L479.5 590.473"/>
<path d="M652 588.487L645.6 588.487"/>
<path d="M651 592.459L646.6 592.459"/>
<path d="M645.6 588.487L645.6 592.459"/>
<path d="M654 585.662L650.5 590.473"/>
<path d="M654 589.931L650.5 590.473"/>
<path d="M480.5 576.973L480.5 588.487"/>
<path d="M649.5 576.973L649.5 588.487"/>
<path d="M564.55 602.846L564.55 606.522"/>
<path d="M524.025 609.453L524.025 612.971"/>
<path d="M605.075 609.453L605.075 612.971"/>
<path d="M478 602.846L483.5 602.846"/>
<path d="M479 606.522L482.5 606.522"/>
<path d="M483.5 602.846L483.5 606.522"/>
<path d="M476 599.739L479.5 604.684"/>
<path d="M476 603.683L479.5 604.684"/>
<path d="M652 602.846L645.6 602.846"/>
<path d="M651 606.522L646.6 606.522"/>
<path d="M645.6 602.846L645.6 606.522"/>
<path d="M654 599.739L650.5 604.684"/>
<path d="M654 603.683L650.5 604.684"/>
<path d="M480.5 592.459L480.5 602.846"/>
<path d="M649.5 592.459L649.5 602.846"/>
<path d="M564.55 615.656L564.55 619.007"/>
<path d="M524.025 621.435L524.025 624.614"/>
<path d="M605.075 621.435L605.075 624.614"/>
<path d="M478 615.656L483.5 615.656"/>
<path d="M479 619.007L482.5 619.007"/>
<path d="M483.5 615.656L483.5 619.007"/>
<path d="M476 612.302L479.5 617.331"/>
<path d="M476 615.888L479.5 617.331"/>
<path d="M652 615.656L645.6 615.656"/>
<path d="M651 619.007L646.6 619.007"/>
<path d="M645.6 615.656L645.6 619.007"/>
<path d="M654 612.302L650.5 617.331"/>
<path d="M654 615.888L650.5 617.331"/>
<path d="M480.5 606.522L480.5 615.656"/>
<path d="M649.5 606.522L649.5 615.656"/>
<path d="M564.55 626.777L564.55 629.777"/>
<path d="M524.025 631.665L524.025 634.481"/>
<path d="M605.075 631.665L605.075 634.481"/>
<path d="M478 626.777L483.5 626.777"/>
<path d="M479 629.777L482.5 629.777"/>
<path d="M483.5 626.777L483.5 629.777"/>
<path d="M476 623.213L479.5 628.277"/>
<path d="M476 626.413L479.5 628.277"/>
<path d="M652 626.777L645.6 626.777"/>
<path d="M651 629.777L646.6 629.777"/>
<path d="M645.6 626.777L645.6 629.777"/>
<path d="M654 623.213L650.5 628.277"/>
<path d="M654 626.413L650.5 628.277"/>
<path d="M480.5 619.007L480.5 626.777"/>
<path d="M649.5 619.007L649.5 626.777"/>
<path d="M564.55 636.087L564.55 638.714"/>
<path d="M524.025 640.031L524.025 642.464"/>
<path d="M605.075 640.031L605.075 642.464"/>
<path d="M478 636.087L483.5 636.087"/>
<path d="M479 638.714L482.5 638.714"/>
<path d="M483.5 636.087L483.5 638.714"/>
<path d="M476 632.352L479.5 637.401"/>
<path d="M476 635.141L479.5 637.401"/>
<path d="M652 636.087L645.6 636.087"/>
<path d="M651 638.714L646.6 638.714"/>
<path d="M645.6 636.087L645.6 638.714"/>
<path d="M654 632.352L650.5 637.401"/>
<path d="M654 635.141L650.5 637.401"/>
<path d="M480.5 629.777L480.5 636.087"/>
<path d="M649.5 629.777L649.5 636.087"/>
<path d="M564.55 643.485L564.55 645.721"/>
<path d="M524.025 646.44L524.025 648.475"/>
<path d="M605.075 646.44L605.075 648.475"/>
<path d="M478 643.485L483.5 643.485"/>
<path d="M479 645.721L482.5 645.721"/>
<path d="M483.5 643.485L483.5 645.721"/>
<path d="M476 639.619L479.5 644.603"/>
<path d="M476 641.978L479.5 644.603"/>
<path d="M652 643.485L645.6 643.485"/>
<path d="M651 645.721L646.6 645.721"/>
<path d="M645.6 643.485L645.6 645.721"/>
<path d="M654 639.619L650.5 644.603"/>
<path d="M654 641.978L650.5 644.603"/>
<path d="M480.5 638.714L480.5 643.485"/>
<path d="M649.5 638.714L649.5 643.485"/>
<path d="M564.55 648.889L564.55 650.72"/>
<path d="M524.025 650.823L524.025 652.449"/>
<path d="M605.075 650.823L605.075 652.449"/>
<path d="M478 648.889L483.5 648.889"/>
<path d="M479 650.72L482.5 650.72"/>
<path d="M483.5 648.889L483.5 650.72"/>
<path d="M476 644.934L479.5 649.804"/>
<path d="M476 646.849L479.5 649.804"/>
<path d="M652 648.889L645.6 648.889"/>
<path d="M651 650.72L646.6 650.72"/>
<path d="M645.6 648.889L645.6 650.72"/>
<path d="M654 644.934L650.5 649.804"/>
<path d="M654 646.849L650.5 649.804"/>
<path d="M480.5 645.721L480.5 648.889"/>
<path d="M649.5 645.721L649.5 648.889"/>
<path d="M564.55 652.239L564.55 653.657"/>
<path d="M524.025 653.132L524.025 654.342"/>
<path d="M605.075 653.132L605.075 654.342"/>
<path d="M480.5 650.72L480.5 652.239"/>
<path d="M649.5 650.72L649.5 652.239"/>
<path d="M564.55 653.5L564.55 654.5"/>
<path d="M480.5 654.5L480.5 653"/>
<path d="M649.5 654.5L649.5 653"/>
<path d="M468 652.5H474M474 653.5H480" stroke="#ffb400"/>
</svg>
</body></html>
